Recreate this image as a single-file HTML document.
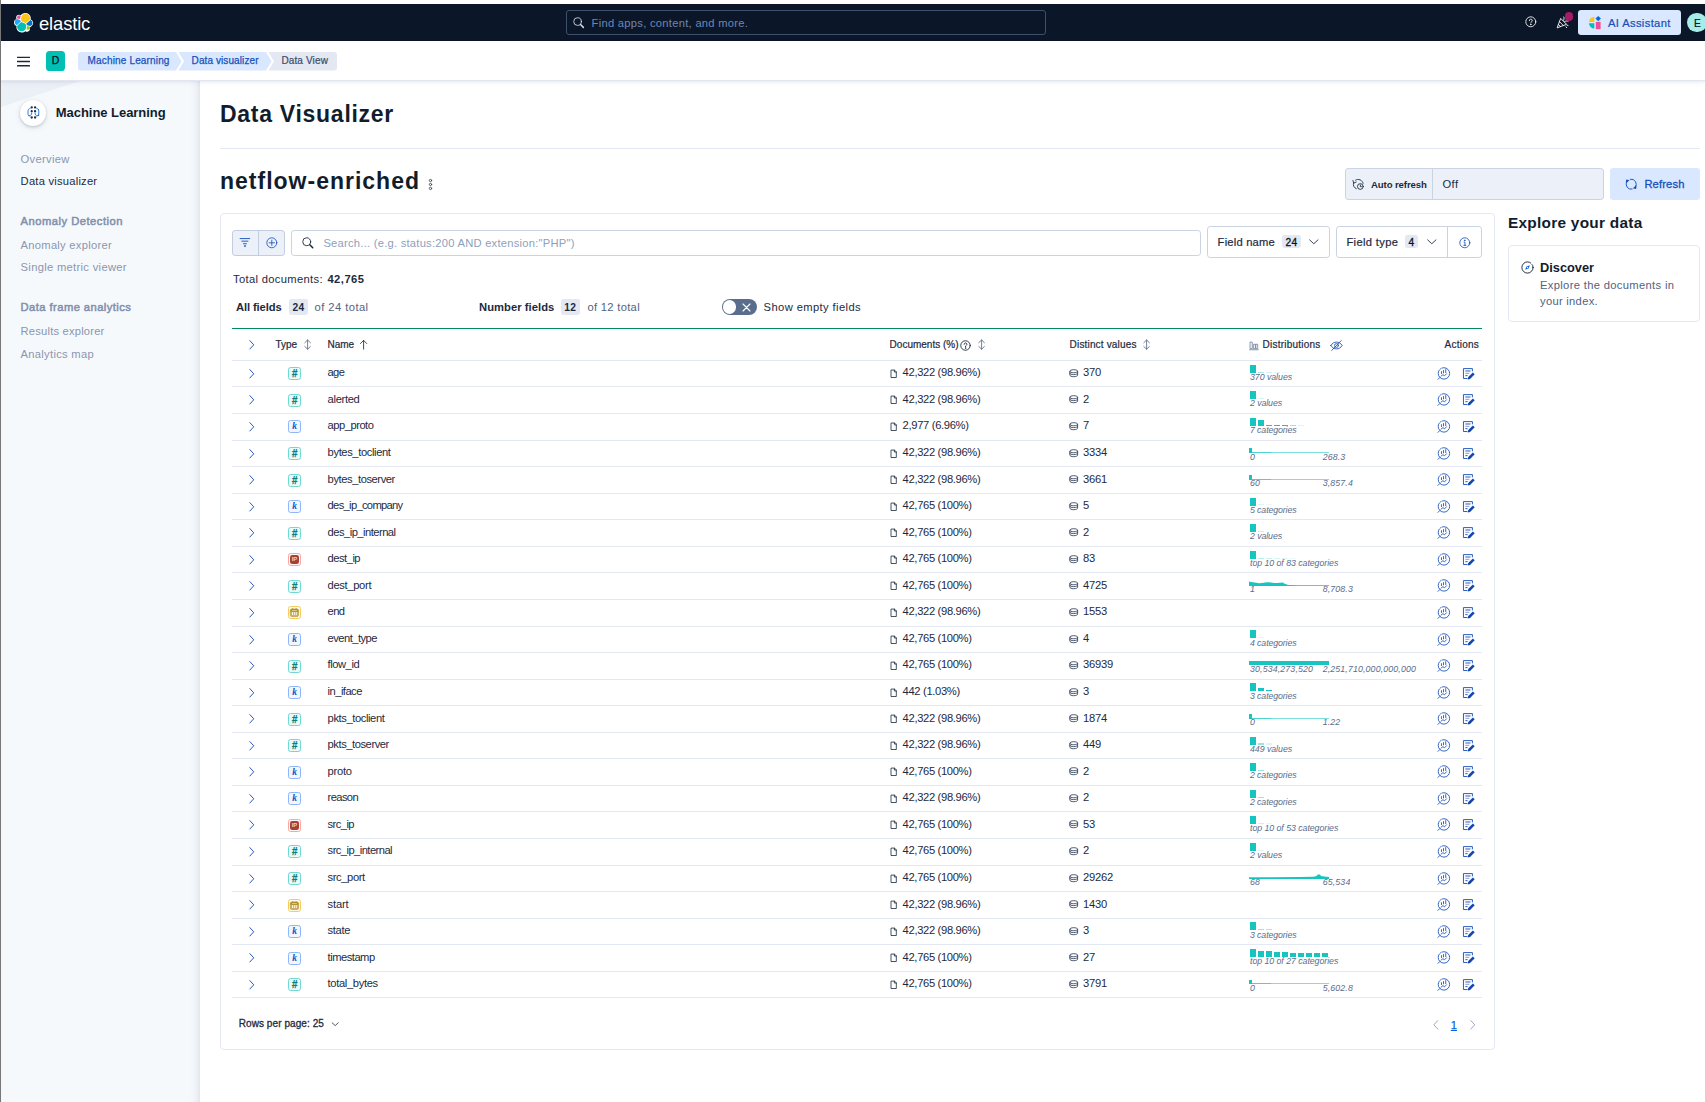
<!DOCTYPE html><html lang="en"><head><meta charset="utf-8"><title>Data Visualizer - Machine Learning - Elastic</title><style>
html,body{margin:0;padding:0}
body{width:1705px;height:1102px;overflow:hidden;background:#fff;position:relative;
 font-family:"Liberation Sans",sans-serif;color:#1D2A3E;font-size:11.2px;}
.t{position:absolute;white-space:nowrap;line-height:1;}
svg{overflow:visible}
.rl{position:absolute;left:232px;width:1250px;height:1px;background:#E3E8F2}
.bdg{position:absolute;background:#E3E8F2;border-radius:2.400px}
</style></head><body>
<div style="position:absolute;left:0.00px;top:0.00px;width:1.00px;height:1102.00px;background:#777"></div>
<div style="position:absolute;left:1.00px;top:4.00px;width:1704.00px;height:36.50px;background:#0B1628"></div>
<svg style="position:absolute;left:14.00px;top:12.90px;" width="19.20" height="19.20" viewBox="0 0 32 32"><g fill="none" fill-rule="evenodd"><path fill="#FFF" d="M32 16.77a6.334 6.334 0 00-1.14-3.63 6.269 6.269 0 00-3.04-2.29 9.048 9.048 0 00-.98-6.25A8.913 8.913 0 0022.14.62a8.8 8.8 0 00-5.96-.32 8.87 8.87 0 00-4.86 3.47 4.75 4.75 0 00-3.02-.97 4.78 4.78 0 00-2.95 1.13 4.87 4.87 0 00-1.62 2.74 4.9 4.9 0 00.43 3.16A6.36 6.36 0 001.13 12.1 6.42 6.42 0 000 15.76c0 1.31.39 2.59 1.14 3.66a6.3 6.3 0 003.05 2.3 9.02 9.02 0 00.56 5.57 8.95 8.95 0 003.68 4.14 8.8 8.8 0 005.39 1.18 8.83 8.83 0 005.04-2.3 4.74 4.74 0 003.01.95 4.77 4.77 0 002.94-1.13 4.87 4.87 0 001.62-2.73 4.9 4.9 0 00-.42-3.15 6.37 6.37 0 003.03-2.3A6.43 6.43 0 0032 16.77z"/><path fill="#FEC514" d="M12.58 13.787l7.002 3.211 7.066-6.213a7.849 7.849 0 00.152-1.557c0-4.287-3.472-7.775-7.74-7.775a7.723 7.723 0 00-6.38 3.376l-1.176 6.124 1.076 2.834z"/><path fill="#00BFB3" d="M5.333 21.215a7.94 7.94 0 00-.148 1.58c0 4.299 3.482 7.797 7.763 7.797a7.75 7.75 0 006.41-3.411l1.166-6.105-1.557-2.989-7.03-3.217-6.604 6.345z"/><path fill="#F04E98" d="M5.29 9.067l4.8 1.137 1.05-5.478a3.784 3.784 0 00-2.293-.776c-2.086 0-3.784 1.705-3.784 3.801 0 .463.077.905.227 1.316"/><path fill="#1BA9F5" d="M4.873 10.214C2.73 10.926 1.231 12.99 1.231 15.3c0 2.25 1.385 4.258 3.464 5.054l6.734-6.114-1.237-2.654-5.319-1.372z"/><path fill="#93C90E" d="M20.873 27.176a3.754 3.754 0 002.282.781c2.086 0 3.783-1.704 3.783-3.8 0-.463-.076-.905-.226-1.316l-4.796-1.127-1.043 5.462z"/><path fill="#0077CC" d="M21.848 20.563l5.28 1.24c2.145-.71 3.643-2.775 3.643-5.086 0-2.246-1.388-4.252-3.47-5.045l-6.907 6.076 1.454 2.815z"/></g></svg>
<span class="t" style="top:15.00px;font-size:18.4px;left:39.00px;color:#fff;letter-spacing:-0.136px;">elastic</span>
<div style="position:absolute;left:566.00px;top:10.00px;width:480.00px;height:24.50px;border:1px solid #3F506C;border-radius:3px;box-sizing:border-box;background:#0B1628"></div>
<svg style="position:absolute;left:572.60px;top:16.60px;" width="11.60" height="11.60" viewBox="0 0 16 16"><g fill="none" stroke="#D5DCE8" stroke-width="1.2" stroke-linecap="round" stroke-linejoin="round"><circle cx="6.300" cy="6.300" r="5.300"/><line x1="10.400" y1="10.400" x2="14.300" y2="14.300" stroke-width="2.04"/></g></svg>
<span class="t" style="top:18.00px;font-size:11.2px;left:591.60px;color:#6F86B5;letter-spacing:0.276px;">Find apps, content, and more.</span>
<svg style="position:absolute;left:1524.60px;top:16.40px;" width="11.60" height="11.60" viewBox="0 0 16 16"><g fill="none" stroke="#fff" stroke-width="1.15" stroke-linecap="round" stroke-linejoin="round"><circle cx="8" cy="8" r="6.9"/><path d="M6 6.3a2 2 0 1 1 3 1.7c-.7.45-1 .8-1 1.6"/><circle cx="8" cy="11.7" r=".35" fill="#fff"/></g></svg>
<svg style="position:absolute;left:1556.00px;top:15.50px;" width="13.00" height="13.00" viewBox="0 0 16 16"><g fill="none" stroke="#fff" stroke-width="1.1" stroke-linecap="round" stroke-linejoin="round"><path d="M5.600 3.400L1.400 14.600l11.200-4.200z"/><path d="M4.300 7l4.700 4.700M3 10.500l2.500 2.500"/><path d="M9.500 1.200c.8 1.500.6 3-.6 4.400M14.800 6.500c-1.500-.8-3-.6-4.400.6"/><path d="M13.500 11.300l1.300.4M12.300 13.300l.8 1.100"/></g></svg>
<div style="position:absolute;left:1564.50px;top:12.20px;width:8.60px;height:8.60px;border-radius:50%;background:#A71A67"></div>
<div style="position:absolute;left:1578.00px;top:10.00px;width:103.00px;height:25.00px;background:#D9E8FF;border-radius:3.200px"></div>
<svg style="position:absolute;left:1588.50px;top:15.80px;" width="12.00" height="13.40" viewBox="0 0 12 13.4"><path d="M5.300 0.700V6H0A5.300 5.300 0 0 1 5.300 0.700z" fill="#FEC514"/><path d="M9.200 -0.100L11.900 2.600 9.200 5.300 6.500 2.600z" fill="#0B64DD"/><path d="M0 7.300H5.300V12.600A5.300 5.300 0 0 1 0 7.300z" fill="#00BFB3"/><rect x="6.800" y="5.900" width="4.800" height="7.300" fill="#F04E98"/></svg>
<span class="t" style="top:18.00px;font-size:11.2px;left:1608.00px;color:#1750BA;letter-spacing:0.357px;-webkit-text-stroke:0.22px #1750BA;">AI Assistant</span>
<div style="position:absolute;left:1687.20px;top:12.70px;width:19.50px;height:19.50px;border-radius:50%;background:#A6EDEA"></div>
<span class="t" style="top:19.00px;font-size:10.2px;left:1694.00px;color:#07101F;-webkit-text-stroke:0.2px #07101F;">E</span>
<div style="position:absolute;left:1.00px;top:80.00px;width:199.00px;height:1022.00px;background:linear-gradient(to right,#F6F9FC 0,#F6F9FC 189px,#EFF3F8 195px,#E1E5EE 199px);overflow:hidden"><div style="position:absolute;left:0;top:0;width:0;height:0;border-top:27px solid #EBEFF6;border-right:82px solid transparent"></div></div>
<div style="position:absolute;left:20.00px;top:100.00px;width:26.00px;height:26.00px;border-radius:50%;background:#fff;box-shadow:0 1px 3px rgba(43,57,79,.22),0 2px 6px rgba(43,57,79,.10)"></div>
<svg style="position:absolute;left:26.80px;top:106.00px;" width="12.80" height="12.80" viewBox="0 0 16 16"><g fill="#1D2A3E"><circle cx="5.9" cy="1.8" r="1.45"/><circle cx="5.9" cy="6.6" r="1.45"/><circle cx="5.9" cy="14.4" r="1.45"/><circle cx="10.1" cy="1.8" r="1.45"/><circle cx="10.1" cy="6.6" r="1.45"/><circle cx="10.1" cy="14.4" r="1.45"/></g><g fill="none" stroke="#2B7BEE" stroke-width="1.25" stroke-linecap="round" stroke-linejoin="round"><path d="M3.900 2.900C2.200 3.500 1.300 4.600 1.300 6.200V10.600L2.900 12.300C5 11.900 5.900 10.900 5.900 8.900"/><path d="M12.100 2.900C13.800 3.500 14.700 4.600 14.700 6.200V10.600L13.100 12.300C11 11.900 10.100 10.900 10.100 8.900"/><path d="M2.900 12.300L4.200 13.300M13.100 12.300L11.800 13.300" stroke-opacity=".55"/></g><circle cx="14.300" cy="11.600" r="1" fill="#0B64DD"/><circle cx="14.300" cy="4.700" r=".7" fill="#0B64DD"/><circle cx="2.300" cy="11.900" r=".8" fill="#0B64DD"/></svg>
<span class="t" style="top:106.00px;font-size:13px;left:55.80px;font-weight:700;color:#111C2C;letter-spacing:-0.045px;">Machine Learning</span>
<span class="t" style="top:154.00px;font-size:11.2px;left:20.60px;color:#8A96AF;letter-spacing:0.290px;">Overview</span>
<span class="t" style="top:176.00px;font-size:11.2px;left:20.60px;letter-spacing:0.223px;">Data visualizer</span>
<span class="t" style="top:216.00px;font-size:11.2px;left:20.60px;color:#8290AC;letter-spacing:0.494px;-webkit-text-stroke:0.5px #8290AC;">Anomaly Detection</span>
<span class="t" style="top:240.00px;font-size:11.2px;left:20.60px;color:#8A96AF;letter-spacing:0.265px;">Anomaly explorer</span>
<span class="t" style="top:262.00px;font-size:11.2px;left:20.60px;color:#8A96AF;letter-spacing:0.309px;">Single metric viewer</span>
<span class="t" style="top:302.00px;font-size:11.2px;left:20.60px;color:#8290AC;letter-spacing:0.436px;-webkit-text-stroke:0.5px #8290AC;">Data frame analytics</span>
<span class="t" style="top:326.00px;font-size:11.2px;left:20.60px;color:#8A96AF;letter-spacing:0.192px;">Results explorer</span>
<span class="t" style="top:349.00px;font-size:11.2px;left:20.60px;color:#8A96AF;letter-spacing:0.283px;">Analytics map</span>
<div style="position:absolute;left:1.00px;top:40.50px;width:1704.00px;height:40.50px;background:#fff;box-shadow:0 1px 2px rgba(43,57,79,.06),0 2px 5px rgba(43,57,79,.05);border-bottom:1px solid #E1E6F0;box-sizing:border-box"></div>
<svg style="position:absolute;left:17.00px;top:55.00px;" width="13.00" height="13.00" viewBox="0 0 16 16"><g fill="#1D2A3E"><rect x="0" y="2" width="16" height="1.6" rx=".3"/><rect x="0" y="7.2" width="16" height="1.6" rx=".3"/><rect x="0" y="12.4" width="16" height="1.6" rx=".3"/></g></svg>
<div style="position:absolute;left:46.00px;top:51.20px;width:19.20px;height:19.40px;background:#00BFB3;border-radius:3.600px"></div>
<span class="t" style="top:56.00px;font-size:10.4px;left:51.80px;color:#07101F;-webkit-text-stroke:0.25px #07101F;">D</span>
<svg style="position:absolute;left:78px;top:52px" width="262" height="19" viewBox="0 0 262 19"><path d="M3 0H98l5.600 9.200L98 18.400H3a3 3 0 0 1-3-3V3a3 3 0 0 1 3-3z" fill="#D9E8FF"/><path d="M100.400 0H188l5.600 9.200-5.600 9.200H100.400l5.600-9.200z" fill="#D9E8FF"/><path d="M190.400 0H256a3 3 0 0 1 3 3v12.400a3 3 0 0 1-3 3H190.400l5.600-9.200z" fill="#E3E8F2"/></svg>
<span class="t" style="top:56.00px;font-size:10px;left:87.60px;color:#1750BA;letter-spacing:0.156px;-webkit-text-stroke:0.25px #1750BA;">Machine Learning</span>
<span class="t" style="top:56.00px;font-size:10px;left:191.60px;color:#1750BA;letter-spacing:0.094px;-webkit-text-stroke:0.25px #1750BA;">Data visualizer</span>
<span class="t" style="top:56.00px;font-size:10px;left:281.40px;color:#3D4D68;letter-spacing:0.134px;-webkit-text-stroke:0.2px #3D4D68;">Data View</span>
<span class="t" style="top:103.00px;font-size:23px;left:220.00px;font-weight:700;color:#111C2C;letter-spacing:0.719px;">Data Visualizer</span>
<div style="position:absolute;left:220.00px;top:148.00px;width:1480.00px;height:1.00px;background:#E3E8F2"></div>
<span class="t" style="top:170.00px;font-size:23px;left:220.00px;font-weight:700;color:#111C2C;letter-spacing:0.999px;">netflow-enriched</span>
<svg style="position:absolute;left:425.00px;top:179.00px;" width="11.00" height="11.00" viewBox="0 0 16 16"><g fill="none" stroke="#36445C" stroke-width="1.25" stroke-linecap="round" stroke-linejoin="round"><circle cx="8" cy="2.200" r="1.700"/><circle cx="8" cy="7.950" r="1.700"/><circle cx="8" cy="13.700" r="1.700"/></g></svg>
<div style="position:absolute;left:1345.00px;top:168.00px;width:259.00px;height:32.00px;background:#ECF1F9;border:1px solid #CAD3E2;border-radius:3.200px;box-sizing:border-box"></div>
<div style="position:absolute;left:1432.00px;top:169.00px;width:1.00px;height:30.00px;background:#CAD3E2"></div>
<svg style="position:absolute;left:1352.40px;top:177.60px;" width="12.40" height="12.40" viewBox="0 0 16 16"><g fill="none" stroke="#1D2A3E" stroke-width="1.15" stroke-linecap="round" stroke-linejoin="round"><path d="M5.500 13.800A6.300 6.300 0 0 1 2 6.500"/><path d="M4.600 2.700A6.300 6.300 0 0 1 14.300 7"/><polyline points="1.200,3.200 2.300,6.600 5.400,5.200"/><circle cx="10.800" cy="11" r="3.700"/><polyline points="10.800,9 10.800,11.200 12.200,11.200"/></g></svg>
<span class="t" style="top:180.00px;font-size:9.6px;left:1371.00px;font-weight:700;letter-spacing:-0.106px;">Auto refresh</span>
<span class="t" style="top:179.00px;font-size:11.2px;left:1442.50px;letter-spacing:0.423px;">Off</span>
<div style="position:absolute;left:1610.00px;top:168.00px;width:90.00px;height:32.00px;background:#D9E8FF;border-radius:3.200px"></div>
<svg style="position:absolute;left:1625.40px;top:177.80px;" width="12.40" height="12.40" viewBox="0 0 16 16"><g fill="none" stroke="#1750BA" stroke-width="1.2" stroke-linecap="round" stroke-linejoin="round"><path d="M6.870 1.600A6.500 6.500 0 0 1 13.300 11.800"/><path d="M9.130 14.400A6.500 6.500 0 0 1 2.700 4.200"/></g><path d="M15 9.400l-.6 4.700-4.500-.9z M1 6.600l.6-4.700 4.500.9z" fill="#1750BA"/></svg>
<span class="t" style="top:179.00px;font-size:11.2px;left:1644.40px;color:#1750BA;letter-spacing:0.140px;-webkit-text-stroke:0.3px #1750BA;">Refresh</span>
<div style="position:absolute;left:220.00px;top:213.00px;width:1275.00px;height:837.00px;border:1px solid #E3E8F2;border-radius:4px;box-sizing:border-box;background:#fff"></div>
<div style="position:absolute;left:232.00px;top:230.00px;width:53.00px;height:26.00px;background:#ECF1F9;border:1px solid #C3CDE0;border-radius:3.200px;box-sizing:border-box"></div>
<div style="position:absolute;left:258.00px;top:231.00px;width:1.00px;height:24.00px;background:#C3CDE0"></div>
<svg style="position:absolute;left:239.40px;top:236.10px;" width="11.80" height="11.80" viewBox="0 0 16 16"><g fill="none" stroke="#1750BA" stroke-width="1.25" stroke-linecap="round" stroke-linejoin="round"><line x1="1.5" y1="3.5" x2="14.5" y2="3.5"/><line x1="3.8" y1="7" x2="12.2" y2="7"/><line x1="6" y1="10.5" x2="10" y2="10.5"/><circle cx="8" cy="13.6" r=".5" fill="#1750BA"/></g></svg>
<svg style="position:absolute;left:265.70px;top:236.60px;" width="11.60" height="11.60" viewBox="0 0 16 16"><g fill="none" stroke="#1750BA" stroke-width="1.15" stroke-linecap="round" stroke-linejoin="round"><circle cx="8" cy="8" r="6.9"/><line x1="8" y1="4.3" x2="8" y2="11.7"/><line x1="4.3" y1="8" x2="11.7" y2="8"/></g></svg>
<div style="position:absolute;left:291.00px;top:230.00px;width:910.00px;height:26.00px;border:1px solid #CAD3E2;border-radius:3.200px;box-sizing:border-box;background:#fff"></div>
<svg style="position:absolute;left:301.60px;top:236.60px;" width="12.00" height="12.00" viewBox="0 0 16 16"><g fill="none" stroke="#1D2A3E" stroke-width="1.2" stroke-linecap="round" stroke-linejoin="round"><circle cx="6.300" cy="6.300" r="5.300"/><line x1="10.400" y1="10.400" x2="14.300" y2="14.300" stroke-width="2.04"/></g></svg>
<span class="t" style="top:238.00px;font-size:11.2px;left:323.40px;color:#8E9FBC;letter-spacing:0.243px;">Search... (e.g. status:200 AND extension:"PHP")</span>
<div style="position:absolute;left:1207.00px;top:226.00px;width:123.00px;height:32.00px;border:1px solid #CAD3E2;border-radius:3.200px;box-sizing:border-box;background:#fff"></div>
<span class="t" style="top:237.00px;font-size:11.2px;left:1217.60px;letter-spacing:0.199px;-webkit-text-stroke:0.2px #1D2A3E;">Field name</span>
<div class="bdg" style="position:absolute;left:1282.40px;top:235.40px;width:18.40px;height:12.80px;"></div>
<span class="t" style="top:238.00px;font-size:10.2px;left:1285.60px;color:#07101F;letter-spacing:0.327px;-webkit-text-stroke:0.3px #07101F;">24</span>
<svg style="position:absolute;left:1307.70px;top:236.30px;" width="11.60" height="11.60" viewBox="0 0 16 16"><polyline points="2.2,5.3 8,10.7 13.8,5.3" fill="none" stroke="#1D2A3E" stroke-width="1.2" stroke-linecap="round" stroke-linejoin="round"/></svg>
<div style="position:absolute;left:1336.00px;top:226.00px;width:146.00px;height:32.00px;border:1px solid #CAD3E2;border-radius:3.200px;box-sizing:border-box;background:#fff"></div>
<div style="position:absolute;left:1447.00px;top:227.00px;width:1.00px;height:30.00px;background:#CAD3E2"></div>
<span class="t" style="top:237.00px;font-size:11.2px;left:1346.40px;letter-spacing:0.344px;-webkit-text-stroke:0.2px #1D2A3E;">Field type</span>
<div class="bdg" style="position:absolute;left:1405.20px;top:235.40px;width:12.60px;height:12.80px;"></div>
<span class="t" style="top:238.00px;font-size:10.2px;left:1408.40px;color:#07101F;-webkit-text-stroke:0.3px #07101F;">4</span>
<svg style="position:absolute;left:1425.90px;top:236.30px;" width="11.60" height="11.60" viewBox="0 0 16 16"><polyline points="2.2,5.3 8,10.7 13.8,5.3" fill="none" stroke="#1D2A3E" stroke-width="1.2" stroke-linecap="round" stroke-linejoin="round"/></svg>
<svg style="position:absolute;left:1458.50px;top:236.60px;" width="11.60" height="11.60" viewBox="0 0 16 16"><g fill="none" stroke="#1750BA" stroke-width="1.15" stroke-linecap="round" stroke-linejoin="round"><circle cx="8" cy="8" r="6.9"/><path d="M6.9 7h1.3v4.4M6.6 11.5h2.9"/><circle cx="7.9" cy="4.6" r=".45" fill="#1750BA"/></g></svg>
<span class="t" style="top:274.00px;font-size:11.2px;left:233.00px;letter-spacing:0.331px;">Total documents: </span>
<span class="t" style="top:274.00px;font-size:11.2px;left:327.40px;font-weight:700;letter-spacing:0.490px;">42,765</span>
<span class="t" style="top:302.00px;font-size:11.2px;left:236.00px;font-weight:700;letter-spacing:-0.108px;">All fields</span>
<div class="bdg" style="position:absolute;left:289.00px;top:299.40px;width:19.00px;height:15.20px;"></div>
<span class="t" style="top:303.00px;font-size:10.2px;left:292.40px;font-weight:700;letter-spacing:0.427px;">24</span>
<span class="t" style="top:302.00px;font-size:11.2px;left:314.60px;color:#516381;letter-spacing:0.437px;">of 24 total</span>
<span class="t" style="top:302.00px;font-size:11.2px;left:479.00px;font-weight:700;letter-spacing:0.055px;">Number fields</span>
<div class="bdg" style="position:absolute;left:560.80px;top:299.40px;width:19.00px;height:15.20px;"></div>
<span class="t" style="top:303.00px;font-size:10.2px;left:564.30px;font-weight:700;letter-spacing:0.327px;">12</span>
<span class="t" style="top:302.00px;font-size:11.2px;left:587.40px;color:#516381;letter-spacing:0.310px;">of 12 total</span>
<div style="position:absolute;left:721.60px;top:299.00px;width:35.00px;height:16.00px;background:#5A6D8C;border-radius:8px"></div>
<div style="position:absolute;left:722.80px;top:300.20px;width:13.60px;height:13.60px;background:#fff;border-radius:50%"></div>
<svg style="position:absolute;left:741.5px;top:302.8px" width="9" height="9" viewBox="0 0 9 9"><path d="M1 1l7 7M8 1l-7 7" stroke="#fff" stroke-width="1.1" fill="none" stroke-linecap="round"/></svg>
<span class="t" style="top:302.00px;font-size:11.2px;left:763.60px;letter-spacing:0.395px;">Show empty fields</span>
<span class="t" style="top:215.00px;font-size:15.4px;left:1508.00px;font-weight:700;color:#111C2C;letter-spacing:0.266px;">Explore your data</span>
<div style="position:absolute;left:1508.00px;top:245.00px;width:192.00px;height:77.00px;border:1px solid #E3E8F2;border-radius:4px;box-sizing:border-box;background:#fff"></div>
<svg style="position:absolute;left:1520.60px;top:260.60px;" width="13.00" height="13.00" viewBox="0 0 16 16"><g fill="none" stroke="#1D2A3E" stroke-width="1.2" stroke-linecap="round" stroke-linejoin="round"><circle cx="8" cy="8" r="6.900"/></g><path d="M10.900 5.100L9.300 9.300 5.100 10.900 6.700 6.700z" fill="#0B64DD"/><circle cx="8" cy="8" r=".8" fill="#fff"/><g fill="#fff"><rect x="12.600" y="2.100" width="2" height="2" transform="rotate(45 13.600 3.100)"/></g></svg>
<span class="t" style="top:262.00px;font-size:12.8px;left:1540.00px;font-weight:700;color:#111C2C;letter-spacing:-0.010px;">Discover</span>
<span class="t" style="top:280.00px;font-size:11.2px;left:1540.00px;color:#516381;letter-spacing:0.334px;">Explore the documents in</span>
<span class="t" style="top:296.00px;font-size:11.2px;left:1540.00px;color:#516381;letter-spacing:0.292px;">your index.</span>
<div style="position:absolute;left:232.00px;top:327.60px;width:1250.00px;height:1.30px;background:#008A5E"></div>
<svg style="position:absolute;left:246.20px;top:339.20px;" width="11.60" height="11.60" viewBox="0 0 16 16"><polyline points="5.3,2.2 10.7,8 5.3,13.8" fill="none" stroke="#1750BA" stroke-width="1.3" stroke-linecap="round" stroke-linejoin="round"/></svg>
<span class="t" style="top:340.00px;font-size:10px;left:275.60px;letter-spacing:-0.070px;-webkit-text-stroke:0.2px #1D2A3E;">Type</span>
<svg style="position:absolute;left:301.90px;top:339.40px;" width="11.20" height="11.20" viewBox="0 0 16 16"><g fill="none" stroke="#516381" stroke-width="1.15" stroke-linecap="round" stroke-linejoin="round"><line x1="8" y1="1.5" x2="8" y2="14.5"/><polyline points="4,5.300 8,1.400 12,5.300"/><polyline points="4,10.700 8,14.600 12,10.700"/></g></svg>
<span class="t" style="top:340.00px;font-size:10px;left:327.60px;letter-spacing:-0.069px;-webkit-text-stroke:0.2px #1D2A3E;">Name</span>
<svg style="position:absolute;left:358.00px;top:339.40px;" width="11.20" height="11.20" viewBox="0 0 16 16"><g fill="none" stroke="#1D2A3E" stroke-width="1.2" stroke-linecap="round" stroke-linejoin="round"><line x1="8" y1="2" x2="8" y2="14.5"/><polyline points="3.5,6.5 8,2 12.5,6.5"/></g></svg>
<span class="t" style="top:340.00px;font-size:10px;left:889.60px;letter-spacing:0.007px;-webkit-text-stroke:0.2px #1D2A3E;">Documents (%)</span>
<svg style="position:absolute;left:960.00px;top:339.70px;" width="11.00" height="11.00" viewBox="0 0 16 16"><g fill="none" stroke="#1D2A3E" stroke-width="1.3" stroke-linecap="round" stroke-linejoin="round"><circle cx="8" cy="8" r="6.9"/><path d="M6 6.3a2 2 0 1 1 3 1.7c-.7.45-1 .8-1 1.6"/><circle cx="8" cy="11.7" r=".35" fill="#1D2A3E"/></g></svg>
<svg style="position:absolute;left:975.90px;top:339.40px;" width="11.20" height="11.20" viewBox="0 0 16 16"><g fill="none" stroke="#516381" stroke-width="1.15" stroke-linecap="round" stroke-linejoin="round"><line x1="8" y1="1.5" x2="8" y2="14.5"/><polyline points="4,5.300 8,1.400 12,5.300"/><polyline points="4,10.700 8,14.600 12,10.700"/></g></svg>
<span class="t" style="top:340.00px;font-size:10px;left:1069.60px;letter-spacing:0.169px;-webkit-text-stroke:0.2px #1D2A3E;">Distinct values</span>
<svg style="position:absolute;left:1140.90px;top:339.40px;" width="11.20" height="11.20" viewBox="0 0 16 16"><g fill="none" stroke="#516381" stroke-width="1.15" stroke-linecap="round" stroke-linejoin="round"><line x1="8" y1="1.5" x2="8" y2="14.5"/><polyline points="4,5.300 8,1.400 12,5.300"/><polyline points="4,10.700 8,14.600 12,10.700"/></g></svg>
<svg style="position:absolute;left:1249.00px;top:340.60px;" width="9.60" height="9.60" viewBox="0 0 16 16"><g fill="none" stroke="#5A6D8C" stroke-width="1.15" stroke-linecap="round" stroke-linejoin="round"><rect x="2.4" y="1.8" width="3" height="11"/><rect x="8" y="5.4" width="2.6" height="7.4"/><rect x="12.1" y="5.4" width="2.4" height="7.4"/><line x1="1" y1="14.6" x2="15.5" y2="14.6"/></g></svg>
<span class="t" style="top:340.00px;font-size:10px;left:1262.60px;letter-spacing:0.214px;-webkit-text-stroke:0.2px #1D2A3E;">Distributions</span>
<svg style="position:absolute;left:1330.00px;top:339.00px;" width="13.00" height="13.00" viewBox="0 0 16 16"><g fill="none" stroke="#1750BA" stroke-width="1.05" stroke-linecap="round" stroke-linejoin="round"><path d="M1 8c1.8-2.8 4.2-4.2 7-4.2S13.200 5.200 15 8c-1.800 2.800-4.200 4.200-7 4.200S2.800 10.800 1 8z"/><circle cx="8" cy="8" r="2.4"/><line x1="2.2" y1="14" x2="13.800" y2="2"/></g></svg>
<span class="t" style="top:340.00px;font-size:10px;left:1444.60px;letter-spacing:0.229px;-webkit-text-stroke:0.2px #1D2A3E;">Actions</span>
<div class="rl" style="top:360px"></div>
<svg style="position:absolute;left:246.20px;top:367.70px;" width="11.60" height="11.60" viewBox="0 0 16 16"><polyline points="5.3,2.2 10.7,8 5.3,13.8" fill="none" stroke="#1750BA" stroke-width="1.3" stroke-linecap="round" stroke-linejoin="round"/></svg><div style="position:absolute;left:288.00px;top:367.00px;width:13.00px;height:13.00px;background:#EBF9F8;border:1px solid #6FD9D3;border-radius:2.600px;box-sizing:border-box"><span class="t" style="left:0;width:11px;text-align:center;top:0.600px;font-size:10px;font-weight:700;font-style:italic;color:#0B7F7A;-webkit-text-stroke:.25px #0B7F7A">#</span></div><span class="t" style="top:367.00px;font-size:11.2px;left:327.60px;letter-spacing:-0.696px;">age</span><svg style="position:absolute;left:889.40px;top:368.50px;" width="9.60" height="9.60" viewBox="0 0 16 16"><g fill="none" stroke="#1D2A3E" stroke-width="1.35" stroke-linecap="round" stroke-linejoin="round"><path d="M4 1.8h5.2l3 3V14.2H4z"/><path d="M9 1.9v3.2h3.1"/></g></svg><span class="t" style="top:367.00px;font-size:11.2px;left:902.60px;letter-spacing:-0.331px;">42,322 (98.96%)</span><svg style="position:absolute;left:1068.80px;top:368.80px;" width="9.40" height="8.40" viewBox="0 0 18 16"><g fill="none" stroke="#36445C" stroke-width="1.7" stroke-linecap="round" stroke-linejoin="round"><path d="M1.500 4.200C1.500 2.600 4.600 1.300 9 1.300s7.500 1.300 7.500 2.900v7.600c0 1.600-3.100 2.900-7.500 2.900s-7.500-1.300-7.500-2.900z"/><path d="M1.500 4.400c0 1.500 3.100 2.700 7.500 2.700s7.500-1.200 7.500-2.700M1.500 8c0 1.500 3.100 2.700 7.500 2.700s7.500-1.200 7.500-2.700"/></g></svg><span class="t" style="top:367.00px;font-size:11.2px;left:1083.00px;letter-spacing:-0.229px;">370</span><div style="position:absolute;left:1250.00px;top:364.70px;width:6.00px;height:8.00px;background:#16C5C0"></div><div style="position:absolute;left:1258.00px;top:371.60px;width:6.00px;height:1.10px;background:#16C5C0;opacity:0.38"></div><div style="position:absolute;left:1266.00px;top:371.60px;width:6.00px;height:1.10px;background:#16C5C0;opacity:0.22"></div><div style="position:absolute;left:1274.00px;top:371.60px;width:6.00px;height:1.10px;background:#16C5C0;opacity:0.15"></div><div style="position:absolute;left:1282.00px;top:371.60px;width:6.00px;height:1.10px;background:#16C5C0;opacity:0.09"></div><div style="position:absolute;left:1290.00px;top:371.60px;width:6.00px;height:1.10px;background:#16C5C0;opacity:0.06"></div><span class="t" style="top:373.00px;font-size:8.8px;left:1250.00px;color:#5A6D8C;letter-spacing:-0.048px;font-style:italic;">370 values</span><svg style="position:absolute;left:1437.00px;top:366.90px;" width="13.20" height="13.20" viewBox="0 0 16 16"><g fill="none" stroke="#1750BA" stroke-width="1.05" stroke-linecap="round" stroke-linejoin="round"><circle cx="8.400" cy="7.800" r="6.900" stroke-dasharray="25 1.400 1.300 1.400 14.250"/><line x1="3.400" y1="12.800" x2="1.200" y2="15"/><line x1="5.400" y1="5.600" x2="5.400" y2="8"/><line x1="7.900" y1="4.300" x2="7.900" y2="7.200"/><line x1="10.600" y1="3.100" x2="10.600" y2="6.800"/><polyline points="4.900,11.100 7.200,9.300 9.100,10.700 11.600,8.200"/></g></svg><svg style="position:absolute;left:1462.40px;top:366.80px;" width="12.80" height="12.80" viewBox="0 0 16 16"><g fill="none" stroke="#1750BA" stroke-width="1.15" stroke-linecap="butt" stroke-linejoin="miter"><path d="M13 5.400V2H1.800v12.400h5"/><line x1="4.200" y1="5" x2="10.600" y2="5"/><line x1="4.200" y1="7.900" x2="9.200" y2="7.900" stroke-opacity=".6"/><line x1="4.200" y1="10.800" x2="7" y2="10.800"/></g><path d="M13.600 6.800l2.300 2.300-5.800 5.800-3 .700.700-3z" fill="#1246B0"/></svg><div class="rl" style="top:386px"></div>
<svg style="position:absolute;left:246.20px;top:394.20px;" width="11.60" height="11.60" viewBox="0 0 16 16"><polyline points="5.3,2.2 10.7,8 5.3,13.8" fill="none" stroke="#1750BA" stroke-width="1.3" stroke-linecap="round" stroke-linejoin="round"/></svg><div style="position:absolute;left:288.00px;top:394.00px;width:13.00px;height:13.00px;background:#EBF9F8;border:1px solid #6FD9D3;border-radius:2.600px;box-sizing:border-box"><span class="t" style="left:0;width:11px;text-align:center;top:0.600px;font-size:10px;font-weight:700;font-style:italic;color:#0B7F7A;-webkit-text-stroke:.25px #0B7F7A">#</span></div><span class="t" style="top:394.00px;font-size:11.2px;left:327.60px;letter-spacing:-0.335px;">alerted</span><svg style="position:absolute;left:889.40px;top:395.00px;" width="9.60" height="9.60" viewBox="0 0 16 16"><g fill="none" stroke="#1D2A3E" stroke-width="1.35" stroke-linecap="round" stroke-linejoin="round"><path d="M4 1.8h5.2l3 3V14.2H4z"/><path d="M9 1.9v3.2h3.1"/></g></svg><span class="t" style="top:394.00px;font-size:11.2px;left:902.60px;letter-spacing:-0.331px;">42,322 (98.96%)</span><svg style="position:absolute;left:1068.80px;top:395.30px;" width="9.40" height="8.40" viewBox="0 0 18 16"><g fill="none" stroke="#36445C" stroke-width="1.7" stroke-linecap="round" stroke-linejoin="round"><path d="M1.500 4.200C1.500 2.600 4.600 1.300 9 1.300s7.500 1.300 7.500 2.900v7.600c0 1.600-3.100 2.900-7.500 2.900s-7.500-1.300-7.500-2.900z"/><path d="M1.500 4.400c0 1.500 3.100 2.700 7.500 2.700s7.500-1.200 7.500-2.700M1.500 8c0 1.500 3.100 2.700 7.500 2.700s7.500-1.200 7.500-2.700"/></g></svg><span class="t" style="top:394.00px;font-size:11.2px;left:1083.00px;letter-spacing:-0.229px;">2</span><div style="position:absolute;left:1250.00px;top:391.26px;width:6.00px;height:8.00px;background:#16C5C0"></div><div style="position:absolute;left:1258.00px;top:398.16px;width:6.00px;height:1.10px;background:#16C5C0;opacity:0.18"></div><span class="t" style="top:399.00px;font-size:8.8px;left:1250.00px;color:#5A6D8C;letter-spacing:-0.098px;font-style:italic;">2 values</span><svg style="position:absolute;left:1437.00px;top:393.40px;" width="13.20" height="13.20" viewBox="0 0 16 16"><g fill="none" stroke="#1750BA" stroke-width="1.05" stroke-linecap="round" stroke-linejoin="round"><circle cx="8.400" cy="7.800" r="6.900" stroke-dasharray="25 1.400 1.300 1.400 14.250"/><line x1="3.400" y1="12.800" x2="1.200" y2="15"/><line x1="5.400" y1="5.600" x2="5.400" y2="8"/><line x1="7.900" y1="4.300" x2="7.900" y2="7.200"/><line x1="10.600" y1="3.100" x2="10.600" y2="6.800"/><polyline points="4.900,11.100 7.200,9.300 9.100,10.700 11.600,8.200"/></g></svg><svg style="position:absolute;left:1462.40px;top:393.30px;" width="12.80" height="12.80" viewBox="0 0 16 16"><g fill="none" stroke="#1750BA" stroke-width="1.15" stroke-linecap="butt" stroke-linejoin="miter"><path d="M13 5.400V2H1.800v12.400h5"/><line x1="4.200" y1="5" x2="10.600" y2="5"/><line x1="4.200" y1="7.900" x2="9.200" y2="7.900" stroke-opacity=".6"/><line x1="4.200" y1="10.800" x2="7" y2="10.800"/></g><path d="M13.600 6.800l2.300 2.300-5.800 5.800-3 .700.700-3z" fill="#1246B0"/></svg><div class="rl" style="top:413px"></div>
<svg style="position:absolute;left:246.20px;top:421.20px;" width="11.60" height="11.60" viewBox="0 0 16 16"><polyline points="5.3,2.2 10.7,8 5.3,13.8" fill="none" stroke="#1750BA" stroke-width="1.3" stroke-linecap="round" stroke-linejoin="round"/></svg><div style="position:absolute;left:288.00px;top:420.00px;width:13.00px;height:13.00px;background:#F0F5FF;border:1px solid #8DB7FA;border-radius:2.600px;box-sizing:border-box"><span class="t" style="left:0;width:11px;text-align:center;top:0.800px;font-size:9.400px;font-weight:700;font-style:italic;color:#1750BA;font-family:'Liberation Serif',serif">k</span></div><span class="t" style="top:420.00px;font-size:11.2px;left:327.60px;letter-spacing:-0.505px;">app_proto</span><svg style="position:absolute;left:889.40px;top:422.00px;" width="9.60" height="9.60" viewBox="0 0 16 16"><g fill="none" stroke="#1D2A3E" stroke-width="1.35" stroke-linecap="round" stroke-linejoin="round"><path d="M4 1.8h5.2l3 3V14.2H4z"/><path d="M9 1.9v3.2h3.1"/></g></svg><span class="t" style="top:420.00px;font-size:11.2px;left:902.60px;letter-spacing:-0.325px;">2,977 (6.96%)</span><svg style="position:absolute;left:1068.80px;top:422.30px;" width="9.40" height="8.40" viewBox="0 0 18 16"><g fill="none" stroke="#36445C" stroke-width="1.7" stroke-linecap="round" stroke-linejoin="round"><path d="M1.500 4.200C1.500 2.600 4.600 1.300 9 1.300s7.500 1.300 7.500 2.900v7.600c0 1.600-3.100 2.900-7.500 2.900s-7.500-1.300-7.500-2.900z"/><path d="M1.500 4.400c0 1.500 3.100 2.700 7.500 2.700s7.500-1.200 7.500-2.700M1.500 8c0 1.500 3.100 2.700 7.500 2.700s7.500-1.200 7.500-2.700"/></g></svg><span class="t" style="top:420.00px;font-size:11.2px;left:1083.00px;letter-spacing:-0.229px;">7</span><div style="position:absolute;left:1250.00px;top:417.82px;width:6.00px;height:8.00px;background:#16C5C0"></div><div style="position:absolute;left:1258.00px;top:419.82px;width:6.00px;height:6.00px;background:#16C5C0"></div><div style="position:absolute;left:1266.00px;top:424.62px;width:6.00px;height:1.20px;background:#16C5C0"></div><div style="position:absolute;left:1274.00px;top:424.62px;width:6.00px;height:1.20px;background:#16C5C0"></div><div style="position:absolute;left:1282.00px;top:424.62px;width:6.00px;height:1.20px;background:#16C5C0"></div><div style="position:absolute;left:1290.00px;top:424.72px;width:6.00px;height:1.10px;background:#16C5C0;opacity:0.45"></div><div style="position:absolute;left:1298.00px;top:424.72px;width:6.00px;height:1.10px;background:#16C5C0;opacity:0.15"></div><span class="t" style="top:426.00px;font-size:8.8px;left:1250.00px;color:#5A6D8C;letter-spacing:-0.123px;font-style:italic;">7 categories</span><svg style="position:absolute;left:1437.00px;top:420.40px;" width="13.20" height="13.20" viewBox="0 0 16 16"><g fill="none" stroke="#1750BA" stroke-width="1.05" stroke-linecap="round" stroke-linejoin="round"><circle cx="8.400" cy="7.800" r="6.900" stroke-dasharray="25 1.400 1.300 1.400 14.250"/><line x1="3.400" y1="12.800" x2="1.200" y2="15"/><line x1="5.400" y1="5.600" x2="5.400" y2="8"/><line x1="7.900" y1="4.300" x2="7.900" y2="7.200"/><line x1="10.600" y1="3.100" x2="10.600" y2="6.800"/><polyline points="4.900,11.100 7.200,9.300 9.100,10.700 11.600,8.200"/></g></svg><svg style="position:absolute;left:1462.40px;top:420.30px;" width="12.80" height="12.80" viewBox="0 0 16 16"><g fill="none" stroke="#1750BA" stroke-width="1.15" stroke-linecap="butt" stroke-linejoin="miter"><path d="M13 5.400V2H1.800v12.400h5"/><line x1="4.200" y1="5" x2="10.600" y2="5"/><line x1="4.200" y1="7.900" x2="9.200" y2="7.900" stroke-opacity=".6"/><line x1="4.200" y1="10.800" x2="7" y2="10.800"/></g><path d="M13.600 6.800l2.300 2.300-5.800 5.800-3 .700.700-3z" fill="#1246B0"/></svg><div class="rl" style="top:440px"></div>
<svg style="position:absolute;left:246.20px;top:447.70px;" width="11.60" height="11.60" viewBox="0 0 16 16"><polyline points="5.3,2.2 10.7,8 5.3,13.8" fill="none" stroke="#1750BA" stroke-width="1.3" stroke-linecap="round" stroke-linejoin="round"/></svg><div style="position:absolute;left:288.00px;top:447.00px;width:13.00px;height:13.00px;background:#EBF9F8;border:1px solid #6FD9D3;border-radius:2.600px;box-sizing:border-box"><span class="t" style="left:0;width:11px;text-align:center;top:0.600px;font-size:10px;font-weight:700;font-style:italic;color:#0B7F7A;-webkit-text-stroke:.25px #0B7F7A">#</span></div><span class="t" style="top:447.00px;font-size:11.2px;left:327.60px;letter-spacing:-0.392px;">bytes_toclient</span><svg style="position:absolute;left:889.40px;top:448.50px;" width="9.60" height="9.60" viewBox="0 0 16 16"><g fill="none" stroke="#1D2A3E" stroke-width="1.35" stroke-linecap="round" stroke-linejoin="round"><path d="M4 1.8h5.2l3 3V14.2H4z"/><path d="M9 1.9v3.2h3.1"/></g></svg><span class="t" style="top:447.00px;font-size:11.2px;left:902.60px;letter-spacing:-0.331px;">42,322 (98.96%)</span><svg style="position:absolute;left:1068.80px;top:448.80px;" width="9.40" height="8.40" viewBox="0 0 18 16"><g fill="none" stroke="#36445C" stroke-width="1.7" stroke-linecap="round" stroke-linejoin="round"><path d="M1.500 4.200C1.500 2.600 4.600 1.300 9 1.300s7.500 1.300 7.500 2.900v7.600c0 1.600-3.100 2.900-7.500 2.900s-7.500-1.300-7.500-2.900z"/><path d="M1.500 4.400c0 1.500 3.100 2.700 7.500 2.700s7.500-1.200 7.500-2.700M1.500 8c0 1.500 3.100 2.700 7.500 2.700s7.500-1.200 7.500-2.700"/></g></svg><span class="t" style="top:447.00px;font-size:11.2px;left:1083.00px;letter-spacing:-0.229px;">3334</span><div style="position:absolute;left:1249.00px;top:448.38px;width:3.00px;height:4.60px;background:#16C5C0"></div><div style="position:absolute;left:1249.00px;top:452.08px;width:80.00px;height:0.90px;background:#16C5C0;opacity:.55"></div><div style="position:absolute;left:1249.00px;top:451.98px;width:22.00px;height:1.00px;background:#16C5C0;opacity:.5"></div><span class="t" style="top:453.00px;font-size:8.8px;left:1250.00px;color:#5A6D8C;letter-spacing:0.151px;font-style:italic;">0</span><span class="t" style="top:453.00px;font-size:8.8px;left:1322.70px;color:#5A6D8C;letter-spacing:0.136px;font-style:italic;">268.3</span><svg style="position:absolute;left:1437.00px;top:446.90px;" width="13.20" height="13.20" viewBox="0 0 16 16"><g fill="none" stroke="#1750BA" stroke-width="1.05" stroke-linecap="round" stroke-linejoin="round"><circle cx="8.400" cy="7.800" r="6.900" stroke-dasharray="25 1.400 1.300 1.400 14.250"/><line x1="3.400" y1="12.800" x2="1.200" y2="15"/><line x1="5.400" y1="5.600" x2="5.400" y2="8"/><line x1="7.900" y1="4.300" x2="7.900" y2="7.200"/><line x1="10.600" y1="3.100" x2="10.600" y2="6.800"/><polyline points="4.900,11.100 7.200,9.300 9.100,10.700 11.600,8.200"/></g></svg><svg style="position:absolute;left:1462.40px;top:446.80px;" width="12.80" height="12.80" viewBox="0 0 16 16"><g fill="none" stroke="#1750BA" stroke-width="1.15" stroke-linecap="butt" stroke-linejoin="miter"><path d="M13 5.400V2H1.800v12.400h5"/><line x1="4.200" y1="5" x2="10.600" y2="5"/><line x1="4.200" y1="7.900" x2="9.200" y2="7.900" stroke-opacity=".6"/><line x1="4.200" y1="10.800" x2="7" y2="10.800"/></g><path d="M13.600 6.800l2.300 2.300-5.800 5.800-3 .700.700-3z" fill="#1246B0"/></svg><div class="rl" style="top:466px"></div>
<svg style="position:absolute;left:246.20px;top:474.20px;" width="11.60" height="11.60" viewBox="0 0 16 16"><polyline points="5.3,2.2 10.7,8 5.3,13.8" fill="none" stroke="#1750BA" stroke-width="1.3" stroke-linecap="round" stroke-linejoin="round"/></svg><div style="position:absolute;left:288.00px;top:474.00px;width:13.00px;height:13.00px;background:#EBF9F8;border:1px solid #6FD9D3;border-radius:2.600px;box-sizing:border-box"><span class="t" style="left:0;width:11px;text-align:center;top:0.600px;font-size:10px;font-weight:700;font-style:italic;color:#0B7F7A;-webkit-text-stroke:.25px #0B7F7A">#</span></div><span class="t" style="top:474.00px;font-size:11.2px;left:327.60px;letter-spacing:-0.433px;">bytes_toserver</span><svg style="position:absolute;left:889.40px;top:475.00px;" width="9.60" height="9.60" viewBox="0 0 16 16"><g fill="none" stroke="#1D2A3E" stroke-width="1.35" stroke-linecap="round" stroke-linejoin="round"><path d="M4 1.8h5.2l3 3V14.2H4z"/><path d="M9 1.9v3.2h3.1"/></g></svg><span class="t" style="top:474.00px;font-size:11.2px;left:902.60px;letter-spacing:-0.331px;">42,322 (98.96%)</span><svg style="position:absolute;left:1068.80px;top:475.30px;" width="9.40" height="8.40" viewBox="0 0 18 16"><g fill="none" stroke="#36445C" stroke-width="1.7" stroke-linecap="round" stroke-linejoin="round"><path d="M1.500 4.200C1.500 2.600 4.600 1.300 9 1.300s7.500 1.300 7.500 2.900v7.600c0 1.600-3.100 2.900-7.500 2.900s-7.500-1.300-7.500-2.900z"/><path d="M1.500 4.400c0 1.500 3.100 2.700 7.500 2.700s7.500-1.200 7.500-2.700M1.500 8c0 1.500 3.100 2.700 7.500 2.700s7.500-1.200 7.500-2.700"/></g></svg><span class="t" style="top:474.00px;font-size:11.2px;left:1083.00px;letter-spacing:-0.229px;">3661</span><div style="position:absolute;left:1249.00px;top:474.94px;width:3.00px;height:4.60px;background:#16C5C0"></div><div style="position:absolute;left:1249.00px;top:478.64px;width:80.00px;height:0.90px;background:#16C5C0;opacity:.55"></div><div style="position:absolute;left:1249.00px;top:478.54px;width:22.00px;height:1.00px;background:#16C5C0;opacity:.5"></div><span class="t" style="top:479.00px;font-size:8.8px;left:1250.00px;color:#5A6D8C;letter-spacing:0.151px;font-style:italic;">60</span><span class="t" style="top:479.00px;font-size:8.8px;left:1322.70px;color:#5A6D8C;letter-spacing:0.130px;font-style:italic;">3,857.4</span><svg style="position:absolute;left:1437.00px;top:473.40px;" width="13.20" height="13.20" viewBox="0 0 16 16"><g fill="none" stroke="#1750BA" stroke-width="1.05" stroke-linecap="round" stroke-linejoin="round"><circle cx="8.400" cy="7.800" r="6.900" stroke-dasharray="25 1.400 1.300 1.400 14.250"/><line x1="3.400" y1="12.800" x2="1.200" y2="15"/><line x1="5.400" y1="5.600" x2="5.400" y2="8"/><line x1="7.900" y1="4.300" x2="7.900" y2="7.200"/><line x1="10.600" y1="3.100" x2="10.600" y2="6.800"/><polyline points="4.900,11.100 7.200,9.300 9.100,10.700 11.600,8.200"/></g></svg><svg style="position:absolute;left:1462.40px;top:473.30px;" width="12.80" height="12.80" viewBox="0 0 16 16"><g fill="none" stroke="#1750BA" stroke-width="1.15" stroke-linecap="butt" stroke-linejoin="miter"><path d="M13 5.400V2H1.800v12.400h5"/><line x1="4.200" y1="5" x2="10.600" y2="5"/><line x1="4.200" y1="7.900" x2="9.200" y2="7.900" stroke-opacity=".6"/><line x1="4.200" y1="10.800" x2="7" y2="10.800"/></g><path d="M13.600 6.800l2.300 2.300-5.800 5.800-3 .700.700-3z" fill="#1246B0"/></svg><div class="rl" style="top:493px"></div>
<svg style="position:absolute;left:246.20px;top:500.70px;" width="11.60" height="11.60" viewBox="0 0 16 16"><polyline points="5.3,2.2 10.7,8 5.3,13.8" fill="none" stroke="#1750BA" stroke-width="1.3" stroke-linecap="round" stroke-linejoin="round"/></svg><div style="position:absolute;left:288.00px;top:500.00px;width:13.00px;height:13.00px;background:#F0F5FF;border:1px solid #8DB7FA;border-radius:2.600px;box-sizing:border-box"><span class="t" style="left:0;width:11px;text-align:center;top:0.800px;font-size:9.400px;font-weight:700;font-style:italic;color:#1750BA;font-family:'Liberation Serif',serif">k</span></div><span class="t" style="top:500.00px;font-size:11.2px;left:327.60px;letter-spacing:-0.691px;">des_ip_company</span><svg style="position:absolute;left:889.40px;top:501.50px;" width="9.60" height="9.60" viewBox="0 0 16 16"><g fill="none" stroke="#1D2A3E" stroke-width="1.35" stroke-linecap="round" stroke-linejoin="round"><path d="M4 1.8h5.2l3 3V14.2H4z"/><path d="M9 1.9v3.2h3.1"/></g></svg><span class="t" style="top:500.00px;font-size:11.2px;left:902.60px;letter-spacing:-0.339px;">42,765 (100%)</span><svg style="position:absolute;left:1068.80px;top:501.80px;" width="9.40" height="8.40" viewBox="0 0 18 16"><g fill="none" stroke="#36445C" stroke-width="1.7" stroke-linecap="round" stroke-linejoin="round"><path d="M1.500 4.200C1.500 2.600 4.600 1.300 9 1.300s7.500 1.300 7.500 2.900v7.600c0 1.600-3.100 2.900-7.500 2.900s-7.500-1.300-7.500-2.900z"/><path d="M1.500 4.400c0 1.500 3.100 2.700 7.500 2.700s7.500-1.200 7.500-2.700M1.500 8c0 1.500 3.100 2.700 7.500 2.700s7.500-1.200 7.500-2.700"/></g></svg><span class="t" style="top:500.00px;font-size:11.2px;left:1083.00px;letter-spacing:-0.229px;">5</span><div style="position:absolute;left:1250.00px;top:497.50px;width:6.00px;height:8.00px;background:#16C5C0"></div><div style="position:absolute;left:1258.00px;top:504.40px;width:6.00px;height:1.10px;background:#16C5C0;opacity:0.15"></div><div style="position:absolute;left:1266.00px;top:504.40px;width:6.00px;height:1.10px;background:#16C5C0;opacity:0.09"></div><span class="t" style="top:506.00px;font-size:8.8px;left:1250.00px;color:#5A6D8C;letter-spacing:-0.123px;font-style:italic;">5 categories</span><svg style="position:absolute;left:1437.00px;top:499.90px;" width="13.20" height="13.20" viewBox="0 0 16 16"><g fill="none" stroke="#1750BA" stroke-width="1.05" stroke-linecap="round" stroke-linejoin="round"><circle cx="8.400" cy="7.800" r="6.900" stroke-dasharray="25 1.400 1.300 1.400 14.250"/><line x1="3.400" y1="12.800" x2="1.200" y2="15"/><line x1="5.400" y1="5.600" x2="5.400" y2="8"/><line x1="7.900" y1="4.300" x2="7.900" y2="7.200"/><line x1="10.600" y1="3.100" x2="10.600" y2="6.800"/><polyline points="4.900,11.100 7.200,9.300 9.100,10.700 11.600,8.200"/></g></svg><svg style="position:absolute;left:1462.40px;top:499.80px;" width="12.80" height="12.80" viewBox="0 0 16 16"><g fill="none" stroke="#1750BA" stroke-width="1.15" stroke-linecap="butt" stroke-linejoin="miter"><path d="M13 5.400V2H1.800v12.400h5"/><line x1="4.200" y1="5" x2="10.600" y2="5"/><line x1="4.200" y1="7.900" x2="9.200" y2="7.900" stroke-opacity=".6"/><line x1="4.200" y1="10.800" x2="7" y2="10.800"/></g><path d="M13.600 6.800l2.300 2.300-5.800 5.800-3 .700.700-3z" fill="#1246B0"/></svg><div class="rl" style="top:519px"></div>
<svg style="position:absolute;left:246.20px;top:527.20px;" width="11.60" height="11.60" viewBox="0 0 16 16"><polyline points="5.3,2.2 10.7,8 5.3,13.8" fill="none" stroke="#1750BA" stroke-width="1.3" stroke-linecap="round" stroke-linejoin="round"/></svg><div style="position:absolute;left:288.00px;top:527.00px;width:13.00px;height:13.00px;background:#EBF9F8;border:1px solid #6FD9D3;border-radius:2.600px;box-sizing:border-box"><span class="t" style="left:0;width:11px;text-align:center;top:0.600px;font-size:10px;font-weight:700;font-style:italic;color:#0B7F7A;-webkit-text-stroke:.25px #0B7F7A">#</span></div><span class="t" style="top:527.00px;font-size:11.2px;left:327.60px;letter-spacing:-0.531px;">des_ip_internal</span><svg style="position:absolute;left:889.40px;top:528.00px;" width="9.60" height="9.60" viewBox="0 0 16 16"><g fill="none" stroke="#1D2A3E" stroke-width="1.35" stroke-linecap="round" stroke-linejoin="round"><path d="M4 1.8h5.2l3 3V14.2H4z"/><path d="M9 1.9v3.2h3.1"/></g></svg><span class="t" style="top:527.00px;font-size:11.2px;left:902.60px;letter-spacing:-0.339px;">42,765 (100%)</span><svg style="position:absolute;left:1068.80px;top:528.30px;" width="9.40" height="8.40" viewBox="0 0 18 16"><g fill="none" stroke="#36445C" stroke-width="1.7" stroke-linecap="round" stroke-linejoin="round"><path d="M1.500 4.200C1.500 2.600 4.600 1.300 9 1.300s7.500 1.300 7.500 2.900v7.600c0 1.600-3.100 2.900-7.500 2.900s-7.500-1.300-7.500-2.900z"/><path d="M1.500 4.400c0 1.500 3.100 2.700 7.500 2.700s7.500-1.200 7.500-2.700M1.500 8c0 1.500 3.100 2.700 7.500 2.700s7.500-1.200 7.500-2.700"/></g></svg><span class="t" style="top:527.00px;font-size:11.2px;left:1083.00px;letter-spacing:-0.229px;">2</span><div style="position:absolute;left:1250.00px;top:524.06px;width:6.00px;height:8.00px;background:#16C5C0"></div><div style="position:absolute;left:1258.00px;top:530.96px;width:6.00px;height:1.10px;background:#16C5C0;opacity:0.22"></div><span class="t" style="top:532.00px;font-size:8.8px;left:1250.00px;color:#5A6D8C;letter-spacing:-0.098px;font-style:italic;">2 values</span><svg style="position:absolute;left:1437.00px;top:526.40px;" width="13.20" height="13.20" viewBox="0 0 16 16"><g fill="none" stroke="#1750BA" stroke-width="1.05" stroke-linecap="round" stroke-linejoin="round"><circle cx="8.400" cy="7.800" r="6.900" stroke-dasharray="25 1.400 1.300 1.400 14.250"/><line x1="3.400" y1="12.800" x2="1.200" y2="15"/><line x1="5.400" y1="5.600" x2="5.400" y2="8"/><line x1="7.900" y1="4.300" x2="7.900" y2="7.200"/><line x1="10.600" y1="3.100" x2="10.600" y2="6.800"/><polyline points="4.900,11.100 7.200,9.300 9.100,10.700 11.600,8.200"/></g></svg><svg style="position:absolute;left:1462.40px;top:526.30px;" width="12.80" height="12.80" viewBox="0 0 16 16"><g fill="none" stroke="#1750BA" stroke-width="1.15" stroke-linecap="butt" stroke-linejoin="miter"><path d="M13 5.400V2H1.800v12.400h5"/><line x1="4.200" y1="5" x2="10.600" y2="5"/><line x1="4.200" y1="7.900" x2="9.200" y2="7.900" stroke-opacity=".6"/><line x1="4.200" y1="10.800" x2="7" y2="10.800"/></g><path d="M13.600 6.800l2.300 2.300-5.800 5.800-3 .700.700-3z" fill="#1246B0"/></svg><div class="rl" style="top:546px"></div>
<svg style="position:absolute;left:246.20px;top:553.70px;" width="11.60" height="11.60" viewBox="0 0 16 16"><polyline points="5.3,2.2 10.7,8 5.3,13.8" fill="none" stroke="#1750BA" stroke-width="1.3" stroke-linecap="round" stroke-linejoin="round"/></svg><div style="position:absolute;left:288.00px;top:553.00px;width:13.00px;height:13.00px;background:#FFF6F5;border:1px solid #F9A8A0;border-radius:2.600px;box-sizing:border-box"><div style="position:absolute;left:1.300px;top:1.300px;width:8.400px;height:8.400px;background:#A8403A;border-radius:2.200px"></div><span class="t" style="left:0;width:11px;text-align:center;top:2.700px;font-size:5.800px;font-weight:700;color:#F2D2CF;letter-spacing:0px">IP</span></div><span class="t" style="top:553.00px;font-size:11.2px;left:327.60px;letter-spacing:-0.517px;">dest_ip</span><svg style="position:absolute;left:889.40px;top:554.50px;" width="9.60" height="9.60" viewBox="0 0 16 16"><g fill="none" stroke="#1D2A3E" stroke-width="1.35" stroke-linecap="round" stroke-linejoin="round"><path d="M4 1.8h5.2l3 3V14.2H4z"/><path d="M9 1.9v3.2h3.1"/></g></svg><span class="t" style="top:553.00px;font-size:11.2px;left:902.60px;letter-spacing:-0.339px;">42,765 (100%)</span><svg style="position:absolute;left:1068.80px;top:554.80px;" width="9.40" height="8.40" viewBox="0 0 18 16"><g fill="none" stroke="#36445C" stroke-width="1.7" stroke-linecap="round" stroke-linejoin="round"><path d="M1.500 4.200C1.500 2.600 4.600 1.300 9 1.300s7.500 1.300 7.500 2.900v7.600c0 1.600-3.100 2.900-7.500 2.900s-7.500-1.300-7.500-2.900z"/><path d="M1.500 4.400c0 1.500 3.100 2.700 7.500 2.700s7.500-1.200 7.500-2.700M1.500 8c0 1.500 3.100 2.700 7.500 2.700s7.500-1.200 7.500-2.700"/></g></svg><span class="t" style="top:553.00px;font-size:11.2px;left:1083.00px;letter-spacing:-0.229px;">83</span><div style="position:absolute;left:1250.00px;top:550.62px;width:6.00px;height:8.00px;background:#16C5C0"></div><div style="position:absolute;left:1258.00px;top:557.52px;width:6.00px;height:1.10px;background:#16C5C0;opacity:0.30"></div><div style="position:absolute;left:1266.00px;top:557.52px;width:6.00px;height:1.10px;background:#16C5C0;opacity:0.22"></div><div style="position:absolute;left:1274.00px;top:557.52px;width:6.00px;height:1.10px;background:#16C5C0;opacity:0.18"></div><div style="position:absolute;left:1282.00px;top:557.52px;width:6.00px;height:1.10px;background:#16C5C0;opacity:0.15"></div><div style="position:absolute;left:1290.00px;top:557.52px;width:6.00px;height:1.10px;background:#16C5C0;opacity:0.09"></div><span class="t" style="top:559.00px;font-size:8.8px;left:1250.00px;color:#5A6D8C;letter-spacing:-0.054px;font-style:italic;">top 10 of 83 categories</span><svg style="position:absolute;left:1437.00px;top:552.90px;" width="13.20" height="13.20" viewBox="0 0 16 16"><g fill="none" stroke="#1750BA" stroke-width="1.05" stroke-linecap="round" stroke-linejoin="round"><circle cx="8.400" cy="7.800" r="6.900" stroke-dasharray="25 1.400 1.300 1.400 14.250"/><line x1="3.400" y1="12.800" x2="1.200" y2="15"/><line x1="5.400" y1="5.600" x2="5.400" y2="8"/><line x1="7.900" y1="4.300" x2="7.900" y2="7.200"/><line x1="10.600" y1="3.100" x2="10.600" y2="6.800"/><polyline points="4.900,11.100 7.200,9.300 9.100,10.700 11.600,8.200"/></g></svg><svg style="position:absolute;left:1462.40px;top:552.80px;" width="12.80" height="12.80" viewBox="0 0 16 16"><g fill="none" stroke="#1750BA" stroke-width="1.15" stroke-linecap="butt" stroke-linejoin="miter"><path d="M13 5.400V2H1.800v12.400h5"/><line x1="4.200" y1="5" x2="10.600" y2="5"/><line x1="4.200" y1="7.900" x2="9.200" y2="7.900" stroke-opacity=".6"/><line x1="4.200" y1="10.800" x2="7" y2="10.800"/></g><path d="M13.600 6.800l2.300 2.300-5.800 5.800-3 .700.700-3z" fill="#1246B0"/></svg><div class="rl" style="top:572px"></div>
<svg style="position:absolute;left:246.20px;top:580.20px;" width="11.60" height="11.60" viewBox="0 0 16 16"><polyline points="5.3,2.2 10.7,8 5.3,13.8" fill="none" stroke="#1750BA" stroke-width="1.3" stroke-linecap="round" stroke-linejoin="round"/></svg><div style="position:absolute;left:288.00px;top:580.00px;width:13.00px;height:13.00px;background:#EBF9F8;border:1px solid #6FD9D3;border-radius:2.600px;box-sizing:border-box"><span class="t" style="left:0;width:11px;text-align:center;top:0.600px;font-size:10px;font-weight:700;font-style:italic;color:#0B7F7A;-webkit-text-stroke:.25px #0B7F7A">#</span></div><span class="t" style="top:580.00px;font-size:11.2px;left:327.60px;letter-spacing:-0.344px;">dest_port</span><svg style="position:absolute;left:889.40px;top:581.00px;" width="9.60" height="9.60" viewBox="0 0 16 16"><g fill="none" stroke="#1D2A3E" stroke-width="1.35" stroke-linecap="round" stroke-linejoin="round"><path d="M4 1.8h5.2l3 3V14.2H4z"/><path d="M9 1.9v3.2h3.1"/></g></svg><span class="t" style="top:580.00px;font-size:11.2px;left:902.60px;letter-spacing:-0.339px;">42,765 (100%)</span><svg style="position:absolute;left:1068.80px;top:581.30px;" width="9.40" height="8.40" viewBox="0 0 18 16"><g fill="none" stroke="#36445C" stroke-width="1.7" stroke-linecap="round" stroke-linejoin="round"><path d="M1.500 4.200C1.500 2.600 4.600 1.300 9 1.300s7.500 1.300 7.500 2.900v7.600c0 1.600-3.100 2.900-7.500 2.900s-7.500-1.300-7.500-2.900z"/><path d="M1.500 4.400c0 1.500 3.100 2.700 7.500 2.700s7.500-1.200 7.500-2.700M1.500 8c0 1.500 3.100 2.700 7.500 2.700s7.500-1.200 7.500-2.700"/></g></svg><span class="t" style="top:580.00px;font-size:11.2px;left:1083.00px;letter-spacing:-0.229px;">4725</span><svg style="position:absolute;left:1249px;top:581.38px" width="80" height="5" viewBox="0 0 80 5"><polygon points="0,5 0,0.400 2,0.900 4,1.300 7,1.800 10,2.300 13,2 16,1.400 19,1.300 22,1.500 25,1.900 28,2 31,1.800 34,1.500 35,2.500 38,3.400 39,4.100 50,4.200 80,4.300 80,5" fill="#16C5C0"/></svg><span class="t" style="top:585.00px;font-size:8.8px;left:1250.00px;color:#5A6D8C;letter-spacing:0.151px;font-style:italic;">1</span><span class="t" style="top:585.00px;font-size:8.8px;left:1322.70px;color:#5A6D8C;letter-spacing:0.130px;font-style:italic;">8,708.3</span><svg style="position:absolute;left:1437.00px;top:579.40px;" width="13.20" height="13.20" viewBox="0 0 16 16"><g fill="none" stroke="#1750BA" stroke-width="1.05" stroke-linecap="round" stroke-linejoin="round"><circle cx="8.400" cy="7.800" r="6.900" stroke-dasharray="25 1.400 1.300 1.400 14.250"/><line x1="3.400" y1="12.800" x2="1.200" y2="15"/><line x1="5.400" y1="5.600" x2="5.400" y2="8"/><line x1="7.900" y1="4.300" x2="7.900" y2="7.200"/><line x1="10.600" y1="3.100" x2="10.600" y2="6.800"/><polyline points="4.900,11.100 7.200,9.300 9.100,10.700 11.600,8.200"/></g></svg><svg style="position:absolute;left:1462.40px;top:579.30px;" width="12.80" height="12.80" viewBox="0 0 16 16"><g fill="none" stroke="#1750BA" stroke-width="1.15" stroke-linecap="butt" stroke-linejoin="miter"><path d="M13 5.400V2H1.800v12.400h5"/><line x1="4.200" y1="5" x2="10.600" y2="5"/><line x1="4.200" y1="7.900" x2="9.200" y2="7.900" stroke-opacity=".6"/><line x1="4.200" y1="10.800" x2="7" y2="10.800"/></g><path d="M13.600 6.800l2.300 2.300-5.800 5.800-3 .700.700-3z" fill="#1246B0"/></svg><div class="rl" style="top:599px"></div>
<svg style="position:absolute;left:246.20px;top:607.20px;" width="11.60" height="11.60" viewBox="0 0 16 16"><polyline points="5.3,2.2 10.7,8 5.3,13.8" fill="none" stroke="#1750BA" stroke-width="1.3" stroke-linecap="round" stroke-linejoin="round"/></svg><div style="position:absolute;left:288.00px;top:606.00px;width:13.00px;height:13.00px;background:#FEF9EA;border:1px solid #F3CC62;border-radius:2.600px;box-sizing:border-box"><svg style="position:absolute;left:1px;top:1px" width="8.800" height="8.800" viewBox="0 0 16 16"><rect x="0.500" y="1.800" width="15" height="13.700" rx="2.800" fill="#CDB361"/><path d="M0.500 6.800V4.600a2.800 2.800 0 0 1 2.800-2.800h9.400a2.800 2.800 0 0 1 2.800 2.800v2.200z" fill="#B08E27"/><rect x="0.500" y="1.800" width="15" height="13.700" rx="2.800" fill="none" stroke="#B79A3C" stroke-width="1.200"/><g fill="#A88619"><rect x="3.800" y="0.300" width="2.200" height="2.600" rx="1"/><rect x="10" y="0.300" width="2.200" height="2.600" rx="1"/></g><g fill="#FEF9EA"><rect x="3.400" y="3.900" width="9.200" height="1.200" opacity=".8"/><rect x="3.800" y="7.400" width="1.700" height="5.400"/><rect x="7.150" y="7.400" width="1.700" height="5.400"/><rect x="10.500" y="7.400" width="1.700" height="5.400"/></g></svg></div><span class="t" style="top:606.00px;font-size:11.2px;left:327.60px;letter-spacing:-0.629px;">end</span><svg style="position:absolute;left:889.40px;top:608.00px;" width="9.60" height="9.60" viewBox="0 0 16 16"><g fill="none" stroke="#1D2A3E" stroke-width="1.35" stroke-linecap="round" stroke-linejoin="round"><path d="M4 1.8h5.2l3 3V14.2H4z"/><path d="M9 1.9v3.2h3.1"/></g></svg><span class="t" style="top:606.00px;font-size:11.2px;left:902.60px;letter-spacing:-0.331px;">42,322 (98.96%)</span><svg style="position:absolute;left:1068.80px;top:608.30px;" width="9.40" height="8.40" viewBox="0 0 18 16"><g fill="none" stroke="#36445C" stroke-width="1.7" stroke-linecap="round" stroke-linejoin="round"><path d="M1.500 4.200C1.500 2.600 4.600 1.300 9 1.300s7.500 1.300 7.500 2.900v7.600c0 1.600-3.100 2.900-7.500 2.900s-7.500-1.300-7.500-2.900z"/><path d="M1.500 4.400c0 1.500 3.100 2.700 7.500 2.700s7.500-1.200 7.500-2.700M1.500 8c0 1.500 3.100 2.700 7.500 2.700s7.500-1.200 7.500-2.700"/></g></svg><span class="t" style="top:606.00px;font-size:11.2px;left:1083.00px;letter-spacing:-0.229px;">1553</span><svg style="position:absolute;left:1437.00px;top:606.40px;" width="13.20" height="13.20" viewBox="0 0 16 16"><g fill="none" stroke="#1750BA" stroke-width="1.05" stroke-linecap="round" stroke-linejoin="round"><circle cx="8.400" cy="7.800" r="6.900" stroke-dasharray="25 1.400 1.300 1.400 14.250"/><line x1="3.400" y1="12.800" x2="1.200" y2="15"/><line x1="5.400" y1="5.600" x2="5.400" y2="8"/><line x1="7.900" y1="4.300" x2="7.900" y2="7.200"/><line x1="10.600" y1="3.100" x2="10.600" y2="6.800"/><polyline points="4.900,11.100 7.200,9.300 9.100,10.700 11.600,8.200"/></g></svg><svg style="position:absolute;left:1462.40px;top:606.30px;" width="12.80" height="12.80" viewBox="0 0 16 16"><g fill="none" stroke="#1750BA" stroke-width="1.15" stroke-linecap="butt" stroke-linejoin="miter"><path d="M13 5.400V2H1.800v12.400h5"/><line x1="4.200" y1="5" x2="10.600" y2="5"/><line x1="4.200" y1="7.900" x2="9.200" y2="7.900" stroke-opacity=".6"/><line x1="4.200" y1="10.800" x2="7" y2="10.800"/></g><path d="M13.600 6.800l2.300 2.300-5.800 5.800-3 .700.700-3z" fill="#1246B0"/></svg><div class="rl" style="top:626px"></div>
<svg style="position:absolute;left:246.20px;top:633.70px;" width="11.60" height="11.60" viewBox="0 0 16 16"><polyline points="5.3,2.2 10.7,8 5.3,13.8" fill="none" stroke="#1750BA" stroke-width="1.3" stroke-linecap="round" stroke-linejoin="round"/></svg><div style="position:absolute;left:288.00px;top:633.00px;width:13.00px;height:13.00px;background:#F0F5FF;border:1px solid #8DB7FA;border-radius:2.600px;box-sizing:border-box"><span class="t" style="left:0;width:11px;text-align:center;top:0.800px;font-size:9.400px;font-weight:700;font-style:italic;color:#1750BA;font-family:'Liberation Serif',serif">k</span></div><span class="t" style="top:633.00px;font-size:11.2px;left:327.60px;letter-spacing:-0.540px;">event_type</span><svg style="position:absolute;left:889.40px;top:634.50px;" width="9.60" height="9.60" viewBox="0 0 16 16"><g fill="none" stroke="#1D2A3E" stroke-width="1.35" stroke-linecap="round" stroke-linejoin="round"><path d="M4 1.8h5.2l3 3V14.2H4z"/><path d="M9 1.9v3.2h3.1"/></g></svg><span class="t" style="top:633.00px;font-size:11.2px;left:902.60px;letter-spacing:-0.339px;">42,765 (100%)</span><svg style="position:absolute;left:1068.80px;top:634.80px;" width="9.40" height="8.40" viewBox="0 0 18 16"><g fill="none" stroke="#36445C" stroke-width="1.7" stroke-linecap="round" stroke-linejoin="round"><path d="M1.500 4.200C1.500 2.600 4.600 1.300 9 1.300s7.500 1.300 7.500 2.900v7.600c0 1.600-3.100 2.900-7.500 2.900s-7.500-1.300-7.500-2.900z"/><path d="M1.500 4.400c0 1.500 3.100 2.700 7.500 2.700s7.500-1.200 7.500-2.700M1.500 8c0 1.500 3.100 2.700 7.500 2.700s7.500-1.200 7.500-2.700"/></g></svg><span class="t" style="top:633.00px;font-size:11.2px;left:1083.00px;letter-spacing:-0.229px;">4</span><div style="position:absolute;left:1250.00px;top:630.30px;width:6.00px;height:8.00px;background:#16C5C0"></div><div style="position:absolute;left:1258.00px;top:637.20px;width:6.00px;height:1.10px;background:#16C5C0;opacity:0.12"></div><span class="t" style="top:639.00px;font-size:8.8px;left:1250.00px;color:#5A6D8C;letter-spacing:-0.123px;font-style:italic;">4 categories</span><svg style="position:absolute;left:1437.00px;top:632.90px;" width="13.20" height="13.20" viewBox="0 0 16 16"><g fill="none" stroke="#1750BA" stroke-width="1.05" stroke-linecap="round" stroke-linejoin="round"><circle cx="8.400" cy="7.800" r="6.900" stroke-dasharray="25 1.400 1.300 1.400 14.250"/><line x1="3.400" y1="12.800" x2="1.200" y2="15"/><line x1="5.400" y1="5.600" x2="5.400" y2="8"/><line x1="7.900" y1="4.300" x2="7.900" y2="7.200"/><line x1="10.600" y1="3.100" x2="10.600" y2="6.800"/><polyline points="4.900,11.100 7.200,9.300 9.100,10.700 11.600,8.200"/></g></svg><svg style="position:absolute;left:1462.40px;top:632.80px;" width="12.80" height="12.80" viewBox="0 0 16 16"><g fill="none" stroke="#1750BA" stroke-width="1.15" stroke-linecap="butt" stroke-linejoin="miter"><path d="M13 5.400V2H1.800v12.400h5"/><line x1="4.200" y1="5" x2="10.600" y2="5"/><line x1="4.200" y1="7.900" x2="9.200" y2="7.900" stroke-opacity=".6"/><line x1="4.200" y1="10.800" x2="7" y2="10.800"/></g><path d="M13.600 6.800l2.300 2.300-5.800 5.800-3 .700.700-3z" fill="#1246B0"/></svg><div class="rl" style="top:652px"></div>
<svg style="position:absolute;left:246.20px;top:660.20px;" width="11.60" height="11.60" viewBox="0 0 16 16"><polyline points="5.3,2.2 10.7,8 5.3,13.8" fill="none" stroke="#1750BA" stroke-width="1.3" stroke-linecap="round" stroke-linejoin="round"/></svg><div style="position:absolute;left:288.00px;top:660.00px;width:13.00px;height:13.00px;background:#EBF9F8;border:1px solid #6FD9D3;border-radius:2.600px;box-sizing:border-box"><span class="t" style="left:0;width:11px;text-align:center;top:0.600px;font-size:10px;font-weight:700;font-style:italic;color:#0B7F7A;-webkit-text-stroke:.25px #0B7F7A">#</span></div><span class="t" style="top:659.00px;font-size:11.2px;left:327.60px;letter-spacing:-0.466px;">flow_id</span><svg style="position:absolute;left:889.40px;top:661.00px;" width="9.60" height="9.60" viewBox="0 0 16 16"><g fill="none" stroke="#1D2A3E" stroke-width="1.35" stroke-linecap="round" stroke-linejoin="round"><path d="M4 1.8h5.2l3 3V14.2H4z"/><path d="M9 1.9v3.2h3.1"/></g></svg><span class="t" style="top:659.00px;font-size:11.2px;left:902.60px;letter-spacing:-0.339px;">42,765 (100%)</span><svg style="position:absolute;left:1068.80px;top:661.30px;" width="9.40" height="8.40" viewBox="0 0 18 16"><g fill="none" stroke="#36445C" stroke-width="1.7" stroke-linecap="round" stroke-linejoin="round"><path d="M1.500 4.200C1.500 2.600 4.600 1.300 9 1.300s7.500 1.300 7.500 2.900v7.600c0 1.600-3.100 2.900-7.500 2.900s-7.500-1.300-7.500-2.900z"/><path d="M1.500 4.400c0 1.500 3.100 2.700 7.500 2.700s7.500-1.200 7.500-2.700M1.500 8c0 1.500 3.100 2.700 7.500 2.700s7.500-1.200 7.500-2.700"/></g></svg><span class="t" style="top:659.00px;font-size:11.2px;left:1083.00px;letter-spacing:-0.229px;">36939</span><div style="position:absolute;left:1249.00px;top:660.66px;width:80.00px;height:4.80px;background:#16C5C0"></div><span class="t" style="top:665.00px;font-size:8.8px;left:1250.00px;color:#5A6D8C;letter-spacing:0.135px;font-style:italic;">30,534,273,520</span><span class="t" style="top:665.00px;font-size:8.8px;left:1322.70px;color:#5A6D8C;letter-spacing:0.133px;font-style:italic;">2,251,710,000,000,000</span><svg style="position:absolute;left:1437.00px;top:659.40px;" width="13.20" height="13.20" viewBox="0 0 16 16"><g fill="none" stroke="#1750BA" stroke-width="1.05" stroke-linecap="round" stroke-linejoin="round"><circle cx="8.400" cy="7.800" r="6.900" stroke-dasharray="25 1.400 1.300 1.400 14.250"/><line x1="3.400" y1="12.800" x2="1.200" y2="15"/><line x1="5.400" y1="5.600" x2="5.400" y2="8"/><line x1="7.900" y1="4.300" x2="7.900" y2="7.200"/><line x1="10.600" y1="3.100" x2="10.600" y2="6.800"/><polyline points="4.900,11.100 7.200,9.300 9.100,10.700 11.600,8.200"/></g></svg><svg style="position:absolute;left:1462.40px;top:659.30px;" width="12.80" height="12.80" viewBox="0 0 16 16"><g fill="none" stroke="#1750BA" stroke-width="1.15" stroke-linecap="butt" stroke-linejoin="miter"><path d="M13 5.400V2H1.800v12.400h5"/><line x1="4.200" y1="5" x2="10.600" y2="5"/><line x1="4.200" y1="7.900" x2="9.200" y2="7.900" stroke-opacity=".6"/><line x1="4.200" y1="10.800" x2="7" y2="10.800"/></g><path d="M13.600 6.800l2.300 2.300-5.800 5.800-3 .700.700-3z" fill="#1246B0"/></svg><div class="rl" style="top:679px"></div>
<svg style="position:absolute;left:246.20px;top:686.70px;" width="11.60" height="11.60" viewBox="0 0 16 16"><polyline points="5.3,2.2 10.7,8 5.3,13.8" fill="none" stroke="#1750BA" stroke-width="1.3" stroke-linecap="round" stroke-linejoin="round"/></svg><div style="position:absolute;left:288.00px;top:686.00px;width:13.00px;height:13.00px;background:#F0F5FF;border:1px solid #8DB7FA;border-radius:2.600px;box-sizing:border-box"><span class="t" style="left:0;width:11px;text-align:center;top:0.800px;font-size:9.400px;font-weight:700;font-style:italic;color:#1750BA;font-family:'Liberation Serif',serif">k</span></div><span class="t" style="top:686.00px;font-size:11.2px;left:327.60px;letter-spacing:-0.538px;">in_iface</span><svg style="position:absolute;left:889.40px;top:687.50px;" width="9.60" height="9.60" viewBox="0 0 16 16"><g fill="none" stroke="#1D2A3E" stroke-width="1.35" stroke-linecap="round" stroke-linejoin="round"><path d="M4 1.8h5.2l3 3V14.2H4z"/><path d="M9 1.9v3.2h3.1"/></g></svg><span class="t" style="top:686.00px;font-size:11.2px;left:902.60px;letter-spacing:-0.333px;">442 (1.03%)</span><svg style="position:absolute;left:1068.80px;top:687.80px;" width="9.40" height="8.40" viewBox="0 0 18 16"><g fill="none" stroke="#36445C" stroke-width="1.7" stroke-linecap="round" stroke-linejoin="round"><path d="M1.500 4.200C1.500 2.600 4.600 1.300 9 1.300s7.500 1.300 7.500 2.900v7.600c0 1.600-3.100 2.900-7.500 2.900s-7.500-1.300-7.500-2.900z"/><path d="M1.500 4.400c0 1.500 3.100 2.700 7.500 2.700s7.500-1.200 7.500-2.700M1.500 8c0 1.500 3.100 2.700 7.500 2.700s7.500-1.200 7.500-2.700"/></g></svg><span class="t" style="top:686.00px;font-size:11.2px;left:1083.00px;letter-spacing:-0.229px;">3</span><div style="position:absolute;left:1250.00px;top:683.42px;width:6.00px;height:8.00px;background:#16C5C0"></div><div style="position:absolute;left:1258.00px;top:687.52px;width:6.00px;height:3.90px;background:#16C5C0"></div><div style="position:absolute;left:1266.00px;top:690.32px;width:6.00px;height:1.10px;background:#16C5C0"></div><span class="t" style="top:692.00px;font-size:8.8px;left:1250.00px;color:#5A6D8C;letter-spacing:-0.123px;font-style:italic;">3 categories</span><svg style="position:absolute;left:1437.00px;top:685.90px;" width="13.20" height="13.20" viewBox="0 0 16 16"><g fill="none" stroke="#1750BA" stroke-width="1.05" stroke-linecap="round" stroke-linejoin="round"><circle cx="8.400" cy="7.800" r="6.900" stroke-dasharray="25 1.400 1.300 1.400 14.250"/><line x1="3.400" y1="12.800" x2="1.200" y2="15"/><line x1="5.400" y1="5.600" x2="5.400" y2="8"/><line x1="7.900" y1="4.300" x2="7.900" y2="7.200"/><line x1="10.600" y1="3.100" x2="10.600" y2="6.800"/><polyline points="4.900,11.100 7.200,9.300 9.100,10.700 11.600,8.200"/></g></svg><svg style="position:absolute;left:1462.40px;top:685.80px;" width="12.80" height="12.80" viewBox="0 0 16 16"><g fill="none" stroke="#1750BA" stroke-width="1.15" stroke-linecap="butt" stroke-linejoin="miter"><path d="M13 5.400V2H1.800v12.400h5"/><line x1="4.200" y1="5" x2="10.600" y2="5"/><line x1="4.200" y1="7.900" x2="9.200" y2="7.900" stroke-opacity=".6"/><line x1="4.200" y1="10.800" x2="7" y2="10.800"/></g><path d="M13.600 6.800l2.300 2.300-5.800 5.800-3 .700.700-3z" fill="#1246B0"/></svg><div class="rl" style="top:705px"></div>
<svg style="position:absolute;left:246.20px;top:713.20px;" width="11.60" height="11.60" viewBox="0 0 16 16"><polyline points="5.3,2.2 10.7,8 5.3,13.8" fill="none" stroke="#1750BA" stroke-width="1.3" stroke-linecap="round" stroke-linejoin="round"/></svg><div style="position:absolute;left:288.00px;top:713.00px;width:13.00px;height:13.00px;background:#EBF9F8;border:1px solid #6FD9D3;border-radius:2.600px;box-sizing:border-box"><span class="t" style="left:0;width:11px;text-align:center;top:0.600px;font-size:10px;font-weight:700;font-style:italic;color:#0B7F7A;-webkit-text-stroke:.25px #0B7F7A">#</span></div><span class="t" style="top:713.00px;font-size:11.2px;left:327.60px;letter-spacing:-0.412px;">pkts_toclient</span><svg style="position:absolute;left:889.40px;top:714.00px;" width="9.60" height="9.60" viewBox="0 0 16 16"><g fill="none" stroke="#1D2A3E" stroke-width="1.35" stroke-linecap="round" stroke-linejoin="round"><path d="M4 1.8h5.2l3 3V14.2H4z"/><path d="M9 1.9v3.2h3.1"/></g></svg><span class="t" style="top:713.00px;font-size:11.2px;left:902.60px;letter-spacing:-0.331px;">42,322 (98.96%)</span><svg style="position:absolute;left:1068.80px;top:714.30px;" width="9.40" height="8.40" viewBox="0 0 18 16"><g fill="none" stroke="#36445C" stroke-width="1.7" stroke-linecap="round" stroke-linejoin="round"><path d="M1.500 4.200C1.500 2.600 4.600 1.300 9 1.300s7.500 1.300 7.500 2.900v7.600c0 1.600-3.100 2.900-7.500 2.900s-7.500-1.300-7.500-2.900z"/><path d="M1.500 4.400c0 1.500 3.100 2.700 7.500 2.700s7.500-1.200 7.500-2.700M1.500 8c0 1.500 3.100 2.700 7.500 2.700s7.500-1.200 7.500-2.700"/></g></svg><span class="t" style="top:713.00px;font-size:11.2px;left:1083.00px;letter-spacing:-0.229px;">1874</span><div style="position:absolute;left:1249.00px;top:713.98px;width:3.00px;height:4.60px;background:#16C5C0"></div><div style="position:absolute;left:1249.00px;top:717.68px;width:80.00px;height:0.90px;background:#16C5C0;opacity:.55"></div><div style="position:absolute;left:1249.00px;top:717.58px;width:22.00px;height:1.00px;background:#16C5C0;opacity:.5"></div><span class="t" style="top:718.00px;font-size:8.8px;left:1250.00px;color:#5A6D8C;letter-spacing:0.151px;font-style:italic;">0</span><span class="t" style="top:718.00px;font-size:8.8px;left:1322.70px;color:#5A6D8C;letter-spacing:0.132px;font-style:italic;">1.22</span><svg style="position:absolute;left:1437.00px;top:712.40px;" width="13.20" height="13.20" viewBox="0 0 16 16"><g fill="none" stroke="#1750BA" stroke-width="1.05" stroke-linecap="round" stroke-linejoin="round"><circle cx="8.400" cy="7.800" r="6.900" stroke-dasharray="25 1.400 1.300 1.400 14.250"/><line x1="3.400" y1="12.800" x2="1.200" y2="15"/><line x1="5.400" y1="5.600" x2="5.400" y2="8"/><line x1="7.900" y1="4.300" x2="7.900" y2="7.200"/><line x1="10.600" y1="3.100" x2="10.600" y2="6.800"/><polyline points="4.900,11.100 7.200,9.300 9.100,10.700 11.600,8.200"/></g></svg><svg style="position:absolute;left:1462.40px;top:712.30px;" width="12.80" height="12.80" viewBox="0 0 16 16"><g fill="none" stroke="#1750BA" stroke-width="1.15" stroke-linecap="butt" stroke-linejoin="miter"><path d="M13 5.400V2H1.800v12.400h5"/><line x1="4.200" y1="5" x2="10.600" y2="5"/><line x1="4.200" y1="7.900" x2="9.200" y2="7.900" stroke-opacity=".6"/><line x1="4.200" y1="10.800" x2="7" y2="10.800"/></g><path d="M13.600 6.800l2.300 2.300-5.800 5.800-3 .700.700-3z" fill="#1246B0"/></svg><div class="rl" style="top:732px"></div>
<svg style="position:absolute;left:246.20px;top:739.70px;" width="11.60" height="11.60" viewBox="0 0 16 16"><polyline points="5.3,2.2 10.7,8 5.3,13.8" fill="none" stroke="#1750BA" stroke-width="1.3" stroke-linecap="round" stroke-linejoin="round"/></svg><div style="position:absolute;left:288.00px;top:739.00px;width:13.00px;height:13.00px;background:#EBF9F8;border:1px solid #6FD9D3;border-radius:2.600px;box-sizing:border-box"><span class="t" style="left:0;width:11px;text-align:center;top:0.600px;font-size:10px;font-weight:700;font-style:italic;color:#0B7F7A;-webkit-text-stroke:.25px #0B7F7A">#</span></div><span class="t" style="top:739.00px;font-size:11.2px;left:327.60px;letter-spacing:-0.456px;">pkts_toserver</span><svg style="position:absolute;left:889.40px;top:740.50px;" width="9.60" height="9.60" viewBox="0 0 16 16"><g fill="none" stroke="#1D2A3E" stroke-width="1.35" stroke-linecap="round" stroke-linejoin="round"><path d="M4 1.8h5.2l3 3V14.2H4z"/><path d="M9 1.9v3.2h3.1"/></g></svg><span class="t" style="top:739.00px;font-size:11.2px;left:902.60px;letter-spacing:-0.331px;">42,322 (98.96%)</span><svg style="position:absolute;left:1068.80px;top:740.80px;" width="9.40" height="8.40" viewBox="0 0 18 16"><g fill="none" stroke="#36445C" stroke-width="1.7" stroke-linecap="round" stroke-linejoin="round"><path d="M1.500 4.200C1.500 2.600 4.600 1.300 9 1.300s7.500 1.300 7.500 2.900v7.600c0 1.600-3.100 2.900-7.500 2.900s-7.500-1.300-7.500-2.900z"/><path d="M1.500 4.400c0 1.500 3.100 2.700 7.500 2.700s7.500-1.200 7.500-2.700M1.500 8c0 1.500 3.100 2.700 7.500 2.700s7.500-1.200 7.500-2.700"/></g></svg><span class="t" style="top:739.00px;font-size:11.2px;left:1083.00px;letter-spacing:-0.229px;">449</span><div style="position:absolute;left:1250.00px;top:736.54px;width:6.00px;height:8.00px;background:#16C5C0"></div><div style="position:absolute;left:1258.00px;top:743.44px;width:6.00px;height:1.10px;background:#16C5C0;opacity:0.45"></div><div style="position:absolute;left:1266.00px;top:743.44px;width:6.00px;height:1.10px;background:#16C5C0;opacity:0.15"></div><span class="t" style="top:745.00px;font-size:8.8px;left:1250.00px;color:#5A6D8C;letter-spacing:-0.048px;font-style:italic;">449 values</span><svg style="position:absolute;left:1437.00px;top:738.90px;" width="13.20" height="13.20" viewBox="0 0 16 16"><g fill="none" stroke="#1750BA" stroke-width="1.05" stroke-linecap="round" stroke-linejoin="round"><circle cx="8.400" cy="7.800" r="6.900" stroke-dasharray="25 1.400 1.300 1.400 14.250"/><line x1="3.400" y1="12.800" x2="1.200" y2="15"/><line x1="5.400" y1="5.600" x2="5.400" y2="8"/><line x1="7.900" y1="4.300" x2="7.900" y2="7.200"/><line x1="10.600" y1="3.100" x2="10.600" y2="6.800"/><polyline points="4.900,11.100 7.200,9.300 9.100,10.700 11.600,8.200"/></g></svg><svg style="position:absolute;left:1462.40px;top:738.80px;" width="12.80" height="12.80" viewBox="0 0 16 16"><g fill="none" stroke="#1750BA" stroke-width="1.15" stroke-linecap="butt" stroke-linejoin="miter"><path d="M13 5.400V2H1.800v12.400h5"/><line x1="4.200" y1="5" x2="10.600" y2="5"/><line x1="4.200" y1="7.900" x2="9.200" y2="7.900" stroke-opacity=".6"/><line x1="4.200" y1="10.800" x2="7" y2="10.800"/></g><path d="M13.600 6.800l2.300 2.300-5.800 5.800-3 .700.700-3z" fill="#1246B0"/></svg><div class="rl" style="top:758px"></div>
<svg style="position:absolute;left:246.20px;top:766.20px;" width="11.60" height="11.60" viewBox="0 0 16 16"><polyline points="5.3,2.2 10.7,8 5.3,13.8" fill="none" stroke="#1750BA" stroke-width="1.3" stroke-linecap="round" stroke-linejoin="round"/></svg><div style="position:absolute;left:288.00px;top:766.00px;width:13.00px;height:13.00px;background:#F0F5FF;border:1px solid #8DB7FA;border-radius:2.600px;box-sizing:border-box"><span class="t" style="left:0;width:11px;text-align:center;top:0.800px;font-size:9.400px;font-weight:700;font-style:italic;color:#1750BA;font-family:'Liberation Serif',serif">k</span></div><span class="t" style="top:766.00px;font-size:11.2px;left:327.60px;letter-spacing:-0.286px;">proto</span><svg style="position:absolute;left:889.40px;top:767.00px;" width="9.60" height="9.60" viewBox="0 0 16 16"><g fill="none" stroke="#1D2A3E" stroke-width="1.35" stroke-linecap="round" stroke-linejoin="round"><path d="M4 1.8h5.2l3 3V14.2H4z"/><path d="M9 1.9v3.2h3.1"/></g></svg><span class="t" style="top:766.00px;font-size:11.2px;left:902.60px;letter-spacing:-0.339px;">42,765 (100%)</span><svg style="position:absolute;left:1068.80px;top:767.30px;" width="9.40" height="8.40" viewBox="0 0 18 16"><g fill="none" stroke="#36445C" stroke-width="1.7" stroke-linecap="round" stroke-linejoin="round"><path d="M1.500 4.200C1.500 2.600 4.600 1.300 9 1.300s7.500 1.300 7.500 2.900v7.600c0 1.600-3.100 2.900-7.500 2.900s-7.500-1.300-7.500-2.900z"/><path d="M1.500 4.400c0 1.500 3.100 2.700 7.500 2.700s7.500-1.200 7.500-2.700M1.500 8c0 1.500 3.100 2.700 7.500 2.700s7.500-1.200 7.500-2.700"/></g></svg><span class="t" style="top:766.00px;font-size:11.2px;left:1083.00px;letter-spacing:-0.229px;">2</span><div style="position:absolute;left:1250.00px;top:763.10px;width:6.00px;height:8.00px;background:#16C5C0"></div><div style="position:absolute;left:1258.00px;top:770.00px;width:6.00px;height:1.10px;background:#16C5C0;opacity:0.45"></div><span class="t" style="top:771.00px;font-size:8.8px;left:1250.00px;color:#5A6D8C;letter-spacing:-0.123px;font-style:italic;">2 categories</span><svg style="position:absolute;left:1437.00px;top:765.40px;" width="13.20" height="13.20" viewBox="0 0 16 16"><g fill="none" stroke="#1750BA" stroke-width="1.05" stroke-linecap="round" stroke-linejoin="round"><circle cx="8.400" cy="7.800" r="6.900" stroke-dasharray="25 1.400 1.300 1.400 14.250"/><line x1="3.400" y1="12.800" x2="1.200" y2="15"/><line x1="5.400" y1="5.600" x2="5.400" y2="8"/><line x1="7.900" y1="4.300" x2="7.900" y2="7.200"/><line x1="10.600" y1="3.100" x2="10.600" y2="6.800"/><polyline points="4.900,11.100 7.200,9.300 9.100,10.700 11.600,8.200"/></g></svg><svg style="position:absolute;left:1462.40px;top:765.30px;" width="12.80" height="12.80" viewBox="0 0 16 16"><g fill="none" stroke="#1750BA" stroke-width="1.15" stroke-linecap="butt" stroke-linejoin="miter"><path d="M13 5.400V2H1.800v12.400h5"/><line x1="4.200" y1="5" x2="10.600" y2="5"/><line x1="4.200" y1="7.900" x2="9.200" y2="7.900" stroke-opacity=".6"/><line x1="4.200" y1="10.800" x2="7" y2="10.800"/></g><path d="M13.600 6.800l2.300 2.300-5.800 5.800-3 .700.700-3z" fill="#1246B0"/></svg><div class="rl" style="top:785px"></div>
<svg style="position:absolute;left:246.20px;top:792.70px;" width="11.60" height="11.60" viewBox="0 0 16 16"><polyline points="5.3,2.2 10.7,8 5.3,13.8" fill="none" stroke="#1750BA" stroke-width="1.3" stroke-linecap="round" stroke-linejoin="round"/></svg><div style="position:absolute;left:288.00px;top:792.00px;width:13.00px;height:13.00px;background:#F0F5FF;border:1px solid #8DB7FA;border-radius:2.600px;box-sizing:border-box"><span class="t" style="left:0;width:11px;text-align:center;top:0.800px;font-size:9.400px;font-weight:700;font-style:italic;color:#1750BA;font-family:'Liberation Serif',serif">k</span></div><span class="t" style="top:792.00px;font-size:11.2px;left:327.60px;letter-spacing:-0.624px;">reason</span><svg style="position:absolute;left:889.40px;top:793.50px;" width="9.60" height="9.60" viewBox="0 0 16 16"><g fill="none" stroke="#1D2A3E" stroke-width="1.35" stroke-linecap="round" stroke-linejoin="round"><path d="M4 1.8h5.2l3 3V14.2H4z"/><path d="M9 1.9v3.2h3.1"/></g></svg><span class="t" style="top:792.00px;font-size:11.2px;left:902.60px;letter-spacing:-0.331px;">42,322 (98.96%)</span><svg style="position:absolute;left:1068.80px;top:793.80px;" width="9.40" height="8.40" viewBox="0 0 18 16"><g fill="none" stroke="#36445C" stroke-width="1.7" stroke-linecap="round" stroke-linejoin="round"><path d="M1.500 4.200C1.500 2.600 4.600 1.300 9 1.300s7.500 1.300 7.500 2.900v7.600c0 1.600-3.100 2.900-7.500 2.900s-7.500-1.300-7.500-2.900z"/><path d="M1.500 4.400c0 1.500 3.100 2.700 7.500 2.700s7.500-1.200 7.500-2.700M1.500 8c0 1.500 3.100 2.700 7.500 2.700s7.500-1.200 7.500-2.700"/></g></svg><span class="t" style="top:792.00px;font-size:11.2px;left:1083.00px;letter-spacing:-0.229px;">2</span><div style="position:absolute;left:1250.00px;top:789.66px;width:6.00px;height:8.00px;background:#16C5C0"></div><div style="position:absolute;left:1258.00px;top:796.56px;width:6.00px;height:1.10px;background:#16C5C0;opacity:0.45"></div><span class="t" style="top:798.00px;font-size:8.8px;left:1250.00px;color:#5A6D8C;letter-spacing:-0.123px;font-style:italic;">2 categories</span><svg style="position:absolute;left:1437.00px;top:791.90px;" width="13.20" height="13.20" viewBox="0 0 16 16"><g fill="none" stroke="#1750BA" stroke-width="1.05" stroke-linecap="round" stroke-linejoin="round"><circle cx="8.400" cy="7.800" r="6.900" stroke-dasharray="25 1.400 1.300 1.400 14.250"/><line x1="3.400" y1="12.800" x2="1.200" y2="15"/><line x1="5.400" y1="5.600" x2="5.400" y2="8"/><line x1="7.900" y1="4.300" x2="7.900" y2="7.200"/><line x1="10.600" y1="3.100" x2="10.600" y2="6.800"/><polyline points="4.900,11.100 7.200,9.300 9.100,10.700 11.600,8.200"/></g></svg><svg style="position:absolute;left:1462.40px;top:791.80px;" width="12.80" height="12.80" viewBox="0 0 16 16"><g fill="none" stroke="#1750BA" stroke-width="1.15" stroke-linecap="butt" stroke-linejoin="miter"><path d="M13 5.400V2H1.800v12.400h5"/><line x1="4.200" y1="5" x2="10.600" y2="5"/><line x1="4.200" y1="7.900" x2="9.200" y2="7.900" stroke-opacity=".6"/><line x1="4.200" y1="10.800" x2="7" y2="10.800"/></g><path d="M13.600 6.800l2.300 2.300-5.800 5.800-3 .700.700-3z" fill="#1246B0"/></svg><div class="rl" style="top:811px"></div>
<svg style="position:absolute;left:246.20px;top:819.20px;" width="11.60" height="11.60" viewBox="0 0 16 16"><polyline points="5.3,2.2 10.7,8 5.3,13.8" fill="none" stroke="#1750BA" stroke-width="1.3" stroke-linecap="round" stroke-linejoin="round"/></svg><div style="position:absolute;left:288.00px;top:819.00px;width:13.00px;height:13.00px;background:#FFF6F5;border:1px solid #F9A8A0;border-radius:2.600px;box-sizing:border-box"><div style="position:absolute;left:1.300px;top:1.300px;width:8.400px;height:8.400px;background:#A8403A;border-radius:2.200px"></div><span class="t" style="left:0;width:11px;text-align:center;top:2.700px;font-size:5.800px;font-weight:700;color:#F2D2CF;letter-spacing:0px">IP</span></div><span class="t" style="top:819.00px;font-size:11.2px;left:327.60px;letter-spacing:-0.579px;">src_ip</span><svg style="position:absolute;left:889.40px;top:820.00px;" width="9.60" height="9.60" viewBox="0 0 16 16"><g fill="none" stroke="#1D2A3E" stroke-width="1.35" stroke-linecap="round" stroke-linejoin="round"><path d="M4 1.8h5.2l3 3V14.2H4z"/><path d="M9 1.9v3.2h3.1"/></g></svg><span class="t" style="top:819.00px;font-size:11.2px;left:902.60px;letter-spacing:-0.339px;">42,765 (100%)</span><svg style="position:absolute;left:1068.80px;top:820.30px;" width="9.40" height="8.40" viewBox="0 0 18 16"><g fill="none" stroke="#36445C" stroke-width="1.7" stroke-linecap="round" stroke-linejoin="round"><path d="M1.500 4.200C1.500 2.600 4.600 1.300 9 1.300s7.500 1.300 7.500 2.900v7.600c0 1.600-3.100 2.900-7.500 2.900s-7.500-1.300-7.500-2.900z"/><path d="M1.500 4.400c0 1.500 3.100 2.700 7.500 2.700s7.500-1.200 7.500-2.700M1.500 8c0 1.500 3.100 2.700 7.500 2.700s7.500-1.200 7.500-2.700"/></g></svg><span class="t" style="top:819.00px;font-size:11.2px;left:1083.00px;letter-spacing:-0.229px;">53</span><div style="position:absolute;left:1250.00px;top:816.22px;width:6.00px;height:8.00px;background:#16C5C0"></div><div style="position:absolute;left:1258.00px;top:823.12px;width:6.00px;height:1.10px;background:#16C5C0;opacity:0.22"></div><div style="position:absolute;left:1266.00px;top:823.12px;width:6.00px;height:1.10px;background:#16C5C0;opacity:0.12"></div><span class="t" style="top:824.00px;font-size:8.8px;left:1250.00px;color:#5A6D8C;letter-spacing:-0.054px;font-style:italic;">top 10 of 53 categories</span><svg style="position:absolute;left:1437.00px;top:818.40px;" width="13.20" height="13.20" viewBox="0 0 16 16"><g fill="none" stroke="#1750BA" stroke-width="1.05" stroke-linecap="round" stroke-linejoin="round"><circle cx="8.400" cy="7.800" r="6.900" stroke-dasharray="25 1.400 1.300 1.400 14.250"/><line x1="3.400" y1="12.800" x2="1.200" y2="15"/><line x1="5.400" y1="5.600" x2="5.400" y2="8"/><line x1="7.900" y1="4.300" x2="7.900" y2="7.200"/><line x1="10.600" y1="3.100" x2="10.600" y2="6.800"/><polyline points="4.900,11.100 7.200,9.300 9.100,10.700 11.600,8.200"/></g></svg><svg style="position:absolute;left:1462.40px;top:818.30px;" width="12.80" height="12.80" viewBox="0 0 16 16"><g fill="none" stroke="#1750BA" stroke-width="1.15" stroke-linecap="butt" stroke-linejoin="miter"><path d="M13 5.400V2H1.800v12.400h5"/><line x1="4.200" y1="5" x2="10.600" y2="5"/><line x1="4.200" y1="7.900" x2="9.200" y2="7.900" stroke-opacity=".6"/><line x1="4.200" y1="10.800" x2="7" y2="10.800"/></g><path d="M13.600 6.800l2.300 2.300-5.800 5.800-3 .700.700-3z" fill="#1246B0"/></svg><div class="rl" style="top:838px"></div>
<svg style="position:absolute;left:246.20px;top:846.20px;" width="11.60" height="11.60" viewBox="0 0 16 16"><polyline points="5.3,2.2 10.7,8 5.3,13.8" fill="none" stroke="#1750BA" stroke-width="1.3" stroke-linecap="round" stroke-linejoin="round"/></svg><div style="position:absolute;left:288.00px;top:845.00px;width:13.00px;height:13.00px;background:#EBF9F8;border:1px solid #6FD9D3;border-radius:2.600px;box-sizing:border-box"><span class="t" style="left:0;width:11px;text-align:center;top:0.600px;font-size:10px;font-weight:700;font-style:italic;color:#0B7F7A;-webkit-text-stroke:.25px #0B7F7A">#</span></div><span class="t" style="top:845.00px;font-size:11.2px;left:327.60px;letter-spacing:-0.556px;">src_ip_internal</span><svg style="position:absolute;left:889.40px;top:847.00px;" width="9.60" height="9.60" viewBox="0 0 16 16"><g fill="none" stroke="#1D2A3E" stroke-width="1.35" stroke-linecap="round" stroke-linejoin="round"><path d="M4 1.8h5.2l3 3V14.2H4z"/><path d="M9 1.9v3.2h3.1"/></g></svg><span class="t" style="top:845.00px;font-size:11.2px;left:902.60px;letter-spacing:-0.339px;">42,765 (100%)</span><svg style="position:absolute;left:1068.80px;top:847.30px;" width="9.40" height="8.40" viewBox="0 0 18 16"><g fill="none" stroke="#36445C" stroke-width="1.7" stroke-linecap="round" stroke-linejoin="round"><path d="M1.500 4.200C1.500 2.600 4.600 1.300 9 1.300s7.500 1.300 7.500 2.900v7.600c0 1.600-3.100 2.900-7.500 2.900s-7.500-1.300-7.500-2.900z"/><path d="M1.500 4.400c0 1.500 3.100 2.700 7.500 2.700s7.500-1.200 7.500-2.700M1.500 8c0 1.500 3.100 2.700 7.500 2.700s7.500-1.200 7.500-2.700"/></g></svg><span class="t" style="top:845.00px;font-size:11.2px;left:1083.00px;letter-spacing:-0.229px;">2</span><div style="position:absolute;left:1250.00px;top:842.78px;width:6.00px;height:8.00px;background:#16C5C0"></div><div style="position:absolute;left:1258.00px;top:849.68px;width:6.00px;height:1.10px;background:#16C5C0;opacity:0.15"></div><span class="t" style="top:851.00px;font-size:8.8px;left:1250.00px;color:#5A6D8C;letter-spacing:-0.098px;font-style:italic;">2 values</span><svg style="position:absolute;left:1437.00px;top:845.40px;" width="13.20" height="13.20" viewBox="0 0 16 16"><g fill="none" stroke="#1750BA" stroke-width="1.05" stroke-linecap="round" stroke-linejoin="round"><circle cx="8.400" cy="7.800" r="6.900" stroke-dasharray="25 1.400 1.300 1.400 14.250"/><line x1="3.400" y1="12.800" x2="1.200" y2="15"/><line x1="5.400" y1="5.600" x2="5.400" y2="8"/><line x1="7.900" y1="4.300" x2="7.900" y2="7.200"/><line x1="10.600" y1="3.100" x2="10.600" y2="6.800"/><polyline points="4.900,11.100 7.200,9.300 9.100,10.700 11.600,8.200"/></g></svg><svg style="position:absolute;left:1462.40px;top:845.30px;" width="12.80" height="12.80" viewBox="0 0 16 16"><g fill="none" stroke="#1750BA" stroke-width="1.15" stroke-linecap="butt" stroke-linejoin="miter"><path d="M13 5.400V2H1.800v12.400h5"/><line x1="4.200" y1="5" x2="10.600" y2="5"/><line x1="4.200" y1="7.900" x2="9.200" y2="7.900" stroke-opacity=".6"/><line x1="4.200" y1="10.800" x2="7" y2="10.800"/></g><path d="M13.600 6.800l2.300 2.300-5.800 5.800-3 .700.700-3z" fill="#1246B0"/></svg><div class="rl" style="top:865px"></div>
<svg style="position:absolute;left:246.20px;top:872.70px;" width="11.60" height="11.60" viewBox="0 0 16 16"><polyline points="5.3,2.2 10.7,8 5.3,13.8" fill="none" stroke="#1750BA" stroke-width="1.3" stroke-linecap="round" stroke-linejoin="round"/></svg><div style="position:absolute;left:288.00px;top:872.00px;width:13.00px;height:13.00px;background:#EBF9F8;border:1px solid #6FD9D3;border-radius:2.600px;box-sizing:border-box"><span class="t" style="left:0;width:11px;text-align:center;top:0.600px;font-size:10px;font-weight:700;font-style:italic;color:#0B7F7A;-webkit-text-stroke:.25px #0B7F7A">#</span></div><span class="t" style="top:872.00px;font-size:11.2px;left:327.60px;letter-spacing:-0.407px;">src_port</span><svg style="position:absolute;left:889.40px;top:873.50px;" width="9.60" height="9.60" viewBox="0 0 16 16"><g fill="none" stroke="#1D2A3E" stroke-width="1.35" stroke-linecap="round" stroke-linejoin="round"><path d="M4 1.8h5.2l3 3V14.2H4z"/><path d="M9 1.9v3.2h3.1"/></g></svg><span class="t" style="top:872.00px;font-size:11.2px;left:902.60px;letter-spacing:-0.339px;">42,765 (100%)</span><svg style="position:absolute;left:1068.80px;top:873.80px;" width="9.40" height="8.40" viewBox="0 0 18 16"><g fill="none" stroke="#36445C" stroke-width="1.7" stroke-linecap="round" stroke-linejoin="round"><path d="M1.500 4.200C1.500 2.600 4.600 1.300 9 1.300s7.500 1.300 7.500 2.900v7.600c0 1.600-3.100 2.900-7.500 2.900s-7.500-1.300-7.500-2.900z"/><path d="M1.500 4.400c0 1.500 3.100 2.700 7.500 2.700s7.500-1.200 7.500-2.700M1.500 8c0 1.500 3.100 2.700 7.500 2.700s7.500-1.200 7.500-2.700"/></g></svg><span class="t" style="top:872.00px;font-size:11.2px;left:1083.00px;letter-spacing:-0.229px;">29262</span><svg style="position:absolute;left:1249px;top:873.74px" width="80" height="5" viewBox="0 0 80 5"><polygon points="0,5 0,3.300 20,3.200 50,3.100 64,2.800 67,2.300 69,0.600 71,0.600 72,2 75,2.600 80,3 80,5" fill="#16C5C0"/></svg><span class="t" style="top:878.00px;font-size:8.8px;left:1250.00px;color:#5A6D8C;letter-spacing:0.151px;font-style:italic;">68</span><span class="t" style="top:878.00px;font-size:8.8px;left:1322.70px;color:#5A6D8C;letter-spacing:0.139px;font-style:italic;">65,534</span><svg style="position:absolute;left:1437.00px;top:871.90px;" width="13.20" height="13.20" viewBox="0 0 16 16"><g fill="none" stroke="#1750BA" stroke-width="1.05" stroke-linecap="round" stroke-linejoin="round"><circle cx="8.400" cy="7.800" r="6.900" stroke-dasharray="25 1.400 1.300 1.400 14.250"/><line x1="3.400" y1="12.800" x2="1.200" y2="15"/><line x1="5.400" y1="5.600" x2="5.400" y2="8"/><line x1="7.900" y1="4.300" x2="7.900" y2="7.200"/><line x1="10.600" y1="3.100" x2="10.600" y2="6.800"/><polyline points="4.900,11.100 7.200,9.300 9.100,10.700 11.600,8.200"/></g></svg><svg style="position:absolute;left:1462.40px;top:871.80px;" width="12.80" height="12.80" viewBox="0 0 16 16"><g fill="none" stroke="#1750BA" stroke-width="1.15" stroke-linecap="butt" stroke-linejoin="miter"><path d="M13 5.400V2H1.800v12.400h5"/><line x1="4.200" y1="5" x2="10.600" y2="5"/><line x1="4.200" y1="7.900" x2="9.200" y2="7.900" stroke-opacity=".6"/><line x1="4.200" y1="10.800" x2="7" y2="10.800"/></g><path d="M13.600 6.800l2.300 2.300-5.800 5.800-3 .700.700-3z" fill="#1246B0"/></svg><div class="rl" style="top:891px"></div>
<svg style="position:absolute;left:246.20px;top:899.20px;" width="11.60" height="11.60" viewBox="0 0 16 16"><polyline points="5.3,2.2 10.7,8 5.3,13.8" fill="none" stroke="#1750BA" stroke-width="1.3" stroke-linecap="round" stroke-linejoin="round"/></svg><div style="position:absolute;left:288.00px;top:899.00px;width:13.00px;height:13.00px;background:#FEF9EA;border:1px solid #F3CC62;border-radius:2.600px;box-sizing:border-box"><svg style="position:absolute;left:1px;top:1px" width="8.800" height="8.800" viewBox="0 0 16 16"><rect x="0.500" y="1.800" width="15" height="13.700" rx="2.800" fill="#CDB361"/><path d="M0.500 6.800V4.600a2.800 2.800 0 0 1 2.800-2.800h9.400a2.800 2.800 0 0 1 2.800 2.800v2.200z" fill="#B08E27"/><rect x="0.500" y="1.800" width="15" height="13.700" rx="2.800" fill="none" stroke="#B79A3C" stroke-width="1.200"/><g fill="#A88619"><rect x="3.800" y="0.300" width="2.200" height="2.600" rx="1"/><rect x="10" y="0.300" width="2.200" height="2.600" rx="1"/></g><g fill="#FEF9EA"><rect x="3.400" y="3.900" width="9.200" height="1.200" opacity=".8"/><rect x="3.800" y="7.400" width="1.700" height="5.400"/><rect x="7.150" y="7.400" width="1.700" height="5.400"/><rect x="10.500" y="7.400" width="1.700" height="5.400"/></g></svg></div><span class="t" style="top:899.00px;font-size:11.2px;left:327.60px;letter-spacing:-0.176px;">start</span><svg style="position:absolute;left:889.40px;top:900.00px;" width="9.60" height="9.60" viewBox="0 0 16 16"><g fill="none" stroke="#1D2A3E" stroke-width="1.35" stroke-linecap="round" stroke-linejoin="round"><path d="M4 1.8h5.2l3 3V14.2H4z"/><path d="M9 1.9v3.2h3.1"/></g></svg><span class="t" style="top:899.00px;font-size:11.2px;left:902.60px;letter-spacing:-0.331px;">42,322 (98.96%)</span><svg style="position:absolute;left:1068.80px;top:900.30px;" width="9.40" height="8.40" viewBox="0 0 18 16"><g fill="none" stroke="#36445C" stroke-width="1.7" stroke-linecap="round" stroke-linejoin="round"><path d="M1.500 4.200C1.500 2.600 4.600 1.300 9 1.300s7.500 1.300 7.500 2.900v7.600c0 1.600-3.100 2.900-7.500 2.900s-7.500-1.300-7.500-2.900z"/><path d="M1.500 4.400c0 1.500 3.100 2.700 7.500 2.700s7.500-1.200 7.500-2.700M1.500 8c0 1.500 3.100 2.700 7.500 2.700s7.500-1.200 7.500-2.700"/></g></svg><span class="t" style="top:899.00px;font-size:11.2px;left:1083.00px;letter-spacing:-0.229px;">1430</span><svg style="position:absolute;left:1437.00px;top:898.40px;" width="13.20" height="13.20" viewBox="0 0 16 16"><g fill="none" stroke="#1750BA" stroke-width="1.05" stroke-linecap="round" stroke-linejoin="round"><circle cx="8.400" cy="7.800" r="6.900" stroke-dasharray="25 1.400 1.300 1.400 14.250"/><line x1="3.400" y1="12.800" x2="1.200" y2="15"/><line x1="5.400" y1="5.600" x2="5.400" y2="8"/><line x1="7.900" y1="4.300" x2="7.900" y2="7.200"/><line x1="10.600" y1="3.100" x2="10.600" y2="6.800"/><polyline points="4.900,11.100 7.200,9.300 9.100,10.700 11.600,8.200"/></g></svg><svg style="position:absolute;left:1462.40px;top:898.30px;" width="12.80" height="12.80" viewBox="0 0 16 16"><g fill="none" stroke="#1750BA" stroke-width="1.15" stroke-linecap="butt" stroke-linejoin="miter"><path d="M13 5.400V2H1.800v12.400h5"/><line x1="4.200" y1="5" x2="10.600" y2="5"/><line x1="4.200" y1="7.900" x2="9.200" y2="7.900" stroke-opacity=".6"/><line x1="4.200" y1="10.800" x2="7" y2="10.800"/></g><path d="M13.600 6.800l2.300 2.300-5.800 5.800-3 .700.700-3z" fill="#1246B0"/></svg><div class="rl" style="top:918px"></div>
<svg style="position:absolute;left:246.20px;top:925.70px;" width="11.60" height="11.60" viewBox="0 0 16 16"><polyline points="5.3,2.2 10.7,8 5.3,13.8" fill="none" stroke="#1750BA" stroke-width="1.3" stroke-linecap="round" stroke-linejoin="round"/></svg><div style="position:absolute;left:288.00px;top:925.00px;width:13.00px;height:13.00px;background:#F0F5FF;border:1px solid #8DB7FA;border-radius:2.600px;box-sizing:border-box"><span class="t" style="left:0;width:11px;text-align:center;top:0.800px;font-size:9.400px;font-weight:700;font-style:italic;color:#1750BA;font-family:'Liberation Serif',serif">k</span></div><span class="t" style="top:925.00px;font-size:11.2px;left:327.60px;letter-spacing:-0.336px;">state</span><svg style="position:absolute;left:889.40px;top:926.50px;" width="9.60" height="9.60" viewBox="0 0 16 16"><g fill="none" stroke="#1D2A3E" stroke-width="1.35" stroke-linecap="round" stroke-linejoin="round"><path d="M4 1.8h5.2l3 3V14.2H4z"/><path d="M9 1.9v3.2h3.1"/></g></svg><span class="t" style="top:925.00px;font-size:11.2px;left:902.60px;letter-spacing:-0.331px;">42,322 (98.96%)</span><svg style="position:absolute;left:1068.80px;top:926.80px;" width="9.40" height="8.40" viewBox="0 0 18 16"><g fill="none" stroke="#36445C" stroke-width="1.7" stroke-linecap="round" stroke-linejoin="round"><path d="M1.500 4.200C1.500 2.600 4.600 1.300 9 1.300s7.500 1.300 7.500 2.900v7.600c0 1.600-3.100 2.900-7.500 2.900s-7.500-1.300-7.500-2.900z"/><path d="M1.500 4.400c0 1.500 3.100 2.700 7.500 2.700s7.500-1.200 7.500-2.700M1.500 8c0 1.500 3.100 2.700 7.500 2.700s7.500-1.200 7.500-2.700"/></g></svg><span class="t" style="top:925.00px;font-size:11.2px;left:1083.00px;letter-spacing:-0.229px;">3</span><div style="position:absolute;left:1250.00px;top:922.46px;width:6.00px;height:8.00px;background:#16C5C0"></div><div style="position:absolute;left:1258.00px;top:929.36px;width:6.00px;height:1.10px;background:#16C5C0;opacity:0.45"></div><div style="position:absolute;left:1266.00px;top:929.36px;width:6.00px;height:1.10px;background:#16C5C0;opacity:0.38"></div><span class="t" style="top:931.00px;font-size:8.8px;left:1250.00px;color:#5A6D8C;letter-spacing:-0.123px;font-style:italic;">3 categories</span><svg style="position:absolute;left:1437.00px;top:924.90px;" width="13.20" height="13.20" viewBox="0 0 16 16"><g fill="none" stroke="#1750BA" stroke-width="1.05" stroke-linecap="round" stroke-linejoin="round"><circle cx="8.400" cy="7.800" r="6.900" stroke-dasharray="25 1.400 1.300 1.400 14.250"/><line x1="3.400" y1="12.800" x2="1.200" y2="15"/><line x1="5.400" y1="5.600" x2="5.400" y2="8"/><line x1="7.900" y1="4.300" x2="7.900" y2="7.200"/><line x1="10.600" y1="3.100" x2="10.600" y2="6.800"/><polyline points="4.900,11.100 7.200,9.300 9.100,10.700 11.600,8.200"/></g></svg><svg style="position:absolute;left:1462.40px;top:924.80px;" width="12.80" height="12.80" viewBox="0 0 16 16"><g fill="none" stroke="#1750BA" stroke-width="1.15" stroke-linecap="butt" stroke-linejoin="miter"><path d="M13 5.400V2H1.800v12.400h5"/><line x1="4.200" y1="5" x2="10.600" y2="5"/><line x1="4.200" y1="7.900" x2="9.200" y2="7.900" stroke-opacity=".6"/><line x1="4.200" y1="10.800" x2="7" y2="10.800"/></g><path d="M13.600 6.800l2.300 2.300-5.800 5.800-3 .700.700-3z" fill="#1246B0"/></svg><div class="rl" style="top:944px"></div>
<svg style="position:absolute;left:246.20px;top:952.20px;" width="11.60" height="11.60" viewBox="0 0 16 16"><polyline points="5.3,2.2 10.7,8 5.3,13.8" fill="none" stroke="#1750BA" stroke-width="1.3" stroke-linecap="round" stroke-linejoin="round"/></svg><div style="position:absolute;left:288.00px;top:952.00px;width:13.00px;height:13.00px;background:#F0F5FF;border:1px solid #8DB7FA;border-radius:2.600px;box-sizing:border-box"><span class="t" style="left:0;width:11px;text-align:center;top:0.800px;font-size:9.400px;font-weight:700;font-style:italic;color:#1750BA;font-family:'Liberation Serif',serif">k</span></div><span class="t" style="top:952.00px;font-size:11.2px;left:327.60px;letter-spacing:-0.507px;">timestamp</span><svg style="position:absolute;left:889.40px;top:953.00px;" width="9.60" height="9.60" viewBox="0 0 16 16"><g fill="none" stroke="#1D2A3E" stroke-width="1.35" stroke-linecap="round" stroke-linejoin="round"><path d="M4 1.8h5.2l3 3V14.2H4z"/><path d="M9 1.9v3.2h3.1"/></g></svg><span class="t" style="top:952.00px;font-size:11.2px;left:902.60px;letter-spacing:-0.339px;">42,765 (100%)</span><svg style="position:absolute;left:1068.80px;top:953.30px;" width="9.40" height="8.40" viewBox="0 0 18 16"><g fill="none" stroke="#36445C" stroke-width="1.7" stroke-linecap="round" stroke-linejoin="round"><path d="M1.500 4.200C1.500 2.600 4.600 1.300 9 1.300s7.500 1.300 7.500 2.900v7.600c0 1.600-3.100 2.900-7.500 2.900s-7.500-1.300-7.500-2.900z"/><path d="M1.500 4.400c0 1.500 3.100 2.700 7.500 2.700s7.500-1.200 7.500-2.700M1.500 8c0 1.500 3.100 2.700 7.500 2.700s7.500-1.200 7.500-2.700"/></g></svg><span class="t" style="top:952.00px;font-size:11.2px;left:1083.00px;letter-spacing:-0.229px;">27</span><div style="position:absolute;left:1250.00px;top:949.02px;width:6.00px;height:8.00px;background:#16C5C0"></div><div style="position:absolute;left:1258.00px;top:951.22px;width:6.00px;height:5.80px;background:#16C5C0"></div><div style="position:absolute;left:1266.00px;top:951.42px;width:6.00px;height:5.60px;background:#16C5C0"></div><div style="position:absolute;left:1274.00px;top:952.22px;width:6.00px;height:4.80px;background:#16C5C0"></div><div style="position:absolute;left:1282.00px;top:952.42px;width:6.00px;height:4.60px;background:#16C5C0"></div><div style="position:absolute;left:1290.00px;top:952.82px;width:6.00px;height:4.20px;background:#16C5C0"></div><div style="position:absolute;left:1298.00px;top:953.02px;width:6.00px;height:4.00px;background:#16C5C0"></div><div style="position:absolute;left:1306.00px;top:953.02px;width:6.00px;height:4.00px;background:#16C5C0"></div><div style="position:absolute;left:1314.00px;top:953.02px;width:6.00px;height:4.00px;background:#16C5C0"></div><div style="position:absolute;left:1322.00px;top:953.22px;width:6.00px;height:3.80px;background:#16C5C0"></div><span class="t" style="top:957.00px;font-size:8.8px;left:1250.00px;color:#5A6D8C;letter-spacing:-0.054px;font-style:italic;">top 10 of 27 categories</span><svg style="position:absolute;left:1437.00px;top:951.40px;" width="13.20" height="13.20" viewBox="0 0 16 16"><g fill="none" stroke="#1750BA" stroke-width="1.05" stroke-linecap="round" stroke-linejoin="round"><circle cx="8.400" cy="7.800" r="6.900" stroke-dasharray="25 1.400 1.300 1.400 14.250"/><line x1="3.400" y1="12.800" x2="1.200" y2="15"/><line x1="5.400" y1="5.600" x2="5.400" y2="8"/><line x1="7.900" y1="4.300" x2="7.900" y2="7.200"/><line x1="10.600" y1="3.100" x2="10.600" y2="6.800"/><polyline points="4.900,11.100 7.200,9.300 9.100,10.700 11.600,8.200"/></g></svg><svg style="position:absolute;left:1462.40px;top:951.30px;" width="12.80" height="12.80" viewBox="0 0 16 16"><g fill="none" stroke="#1750BA" stroke-width="1.15" stroke-linecap="butt" stroke-linejoin="miter"><path d="M13 5.400V2H1.800v12.400h5"/><line x1="4.200" y1="5" x2="10.600" y2="5"/><line x1="4.200" y1="7.900" x2="9.200" y2="7.900" stroke-opacity=".6"/><line x1="4.200" y1="10.800" x2="7" y2="10.800"/></g><path d="M13.600 6.800l2.300 2.300-5.800 5.800-3 .700.700-3z" fill="#1246B0"/></svg><div class="rl" style="top:971px"></div>
<svg style="position:absolute;left:246.20px;top:978.70px;" width="11.60" height="11.60" viewBox="0 0 16 16"><polyline points="5.3,2.2 10.7,8 5.3,13.8" fill="none" stroke="#1750BA" stroke-width="1.3" stroke-linecap="round" stroke-linejoin="round"/></svg><div style="position:absolute;left:288.00px;top:978.00px;width:13.00px;height:13.00px;background:#EBF9F8;border:1px solid #6FD9D3;border-radius:2.600px;box-sizing:border-box"><span class="t" style="left:0;width:11px;text-align:center;top:0.600px;font-size:10px;font-weight:700;font-style:italic;color:#0B7F7A;-webkit-text-stroke:.25px #0B7F7A">#</span></div><span class="t" style="top:978.00px;font-size:11.2px;left:327.60px;letter-spacing:-0.361px;">total_bytes</span><svg style="position:absolute;left:889.40px;top:979.50px;" width="9.60" height="9.60" viewBox="0 0 16 16"><g fill="none" stroke="#1D2A3E" stroke-width="1.35" stroke-linecap="round" stroke-linejoin="round"><path d="M4 1.8h5.2l3 3V14.2H4z"/><path d="M9 1.9v3.2h3.1"/></g></svg><span class="t" style="top:978.00px;font-size:11.2px;left:902.60px;letter-spacing:-0.339px;">42,765 (100%)</span><svg style="position:absolute;left:1068.80px;top:979.80px;" width="9.40" height="8.40" viewBox="0 0 18 16"><g fill="none" stroke="#36445C" stroke-width="1.7" stroke-linecap="round" stroke-linejoin="round"><path d="M1.500 4.200C1.500 2.600 4.600 1.300 9 1.300s7.500 1.300 7.500 2.900v7.600c0 1.600-3.100 2.900-7.500 2.900s-7.500-1.300-7.500-2.900z"/><path d="M1.500 4.400c0 1.500 3.100 2.700 7.500 2.700s7.500-1.200 7.500-2.700M1.500 8c0 1.500 3.100 2.700 7.500 2.700s7.500-1.200 7.500-2.700"/></g></svg><span class="t" style="top:978.00px;font-size:11.2px;left:1083.00px;letter-spacing:-0.229px;">3791</span><div style="position:absolute;left:1249.00px;top:979.58px;width:3.00px;height:4.60px;background:#16C5C0"></div><div style="position:absolute;left:1249.00px;top:983.28px;width:80.00px;height:0.90px;background:#16C5C0;opacity:.55"></div><div style="position:absolute;left:1249.00px;top:983.18px;width:22.00px;height:1.00px;background:#16C5C0;opacity:.5"></div><span class="t" style="top:984.00px;font-size:8.8px;left:1250.00px;color:#5A6D8C;letter-spacing:0.151px;font-style:italic;">0</span><span class="t" style="top:984.00px;font-size:8.8px;left:1322.70px;color:#5A6D8C;letter-spacing:0.130px;font-style:italic;">5,602.8</span><svg style="position:absolute;left:1437.00px;top:977.90px;" width="13.20" height="13.20" viewBox="0 0 16 16"><g fill="none" stroke="#1750BA" stroke-width="1.05" stroke-linecap="round" stroke-linejoin="round"><circle cx="8.400" cy="7.800" r="6.900" stroke-dasharray="25 1.400 1.300 1.400 14.250"/><line x1="3.400" y1="12.800" x2="1.200" y2="15"/><line x1="5.400" y1="5.600" x2="5.400" y2="8"/><line x1="7.900" y1="4.300" x2="7.900" y2="7.200"/><line x1="10.600" y1="3.100" x2="10.600" y2="6.800"/><polyline points="4.900,11.100 7.200,9.300 9.100,10.700 11.600,8.200"/></g></svg><svg style="position:absolute;left:1462.40px;top:977.80px;" width="12.80" height="12.80" viewBox="0 0 16 16"><g fill="none" stroke="#1750BA" stroke-width="1.15" stroke-linecap="butt" stroke-linejoin="miter"><path d="M13 5.400V2H1.800v12.400h5"/><line x1="4.200" y1="5" x2="10.600" y2="5"/><line x1="4.200" y1="7.900" x2="9.200" y2="7.900" stroke-opacity=".6"/><line x1="4.200" y1="10.800" x2="7" y2="10.800"/></g><path d="M13.600 6.800l2.300 2.300-5.800 5.800-3 .700.700-3z" fill="#1246B0"/></svg><div class="rl" style="top:997px"></div>
<span class="t" style="top:1019.00px;font-size:10px;left:238.70px;letter-spacing:0.080px;-webkit-text-stroke:0.3px #1D2A3E;">Rows per page: 25</span>
<svg style="position:absolute;left:330.60px;top:1019.60px;" width="8.40" height="8.40" viewBox="0 0 16 16"><polyline points="2.2,5.3 8,10.7 13.8,5.3" fill="none" stroke="#1D2A3E" stroke-width="1.5" stroke-linecap="round" stroke-linejoin="round"/></svg>
<svg style="position:absolute;left:1430.00px;top:1019.00px;" width="11.60" height="11.60" viewBox="0 0 16 16"><polyline points="10.7,2.2 5.3,8 10.7,13.8" fill="none" stroke="#8E9FBC" stroke-width="1.25" stroke-linecap="round" stroke-linejoin="round"/></svg>
<span class="t" style="top:1020.00px;font-size:11.2px;left:1450.80px;color:#0B64DD;-webkit-text-stroke:0.25px #0B64DD;text-decoration:underline;">1</span>
<svg style="position:absolute;left:1466.80px;top:1019.00px;" width="11.60" height="11.60" viewBox="0 0 16 16"><polyline points="5.3,2.2 10.7,8 5.3,13.8" fill="none" stroke="#8E9FBC" stroke-width="1.25" stroke-linecap="round" stroke-linejoin="round"/></svg>
</body></html>
